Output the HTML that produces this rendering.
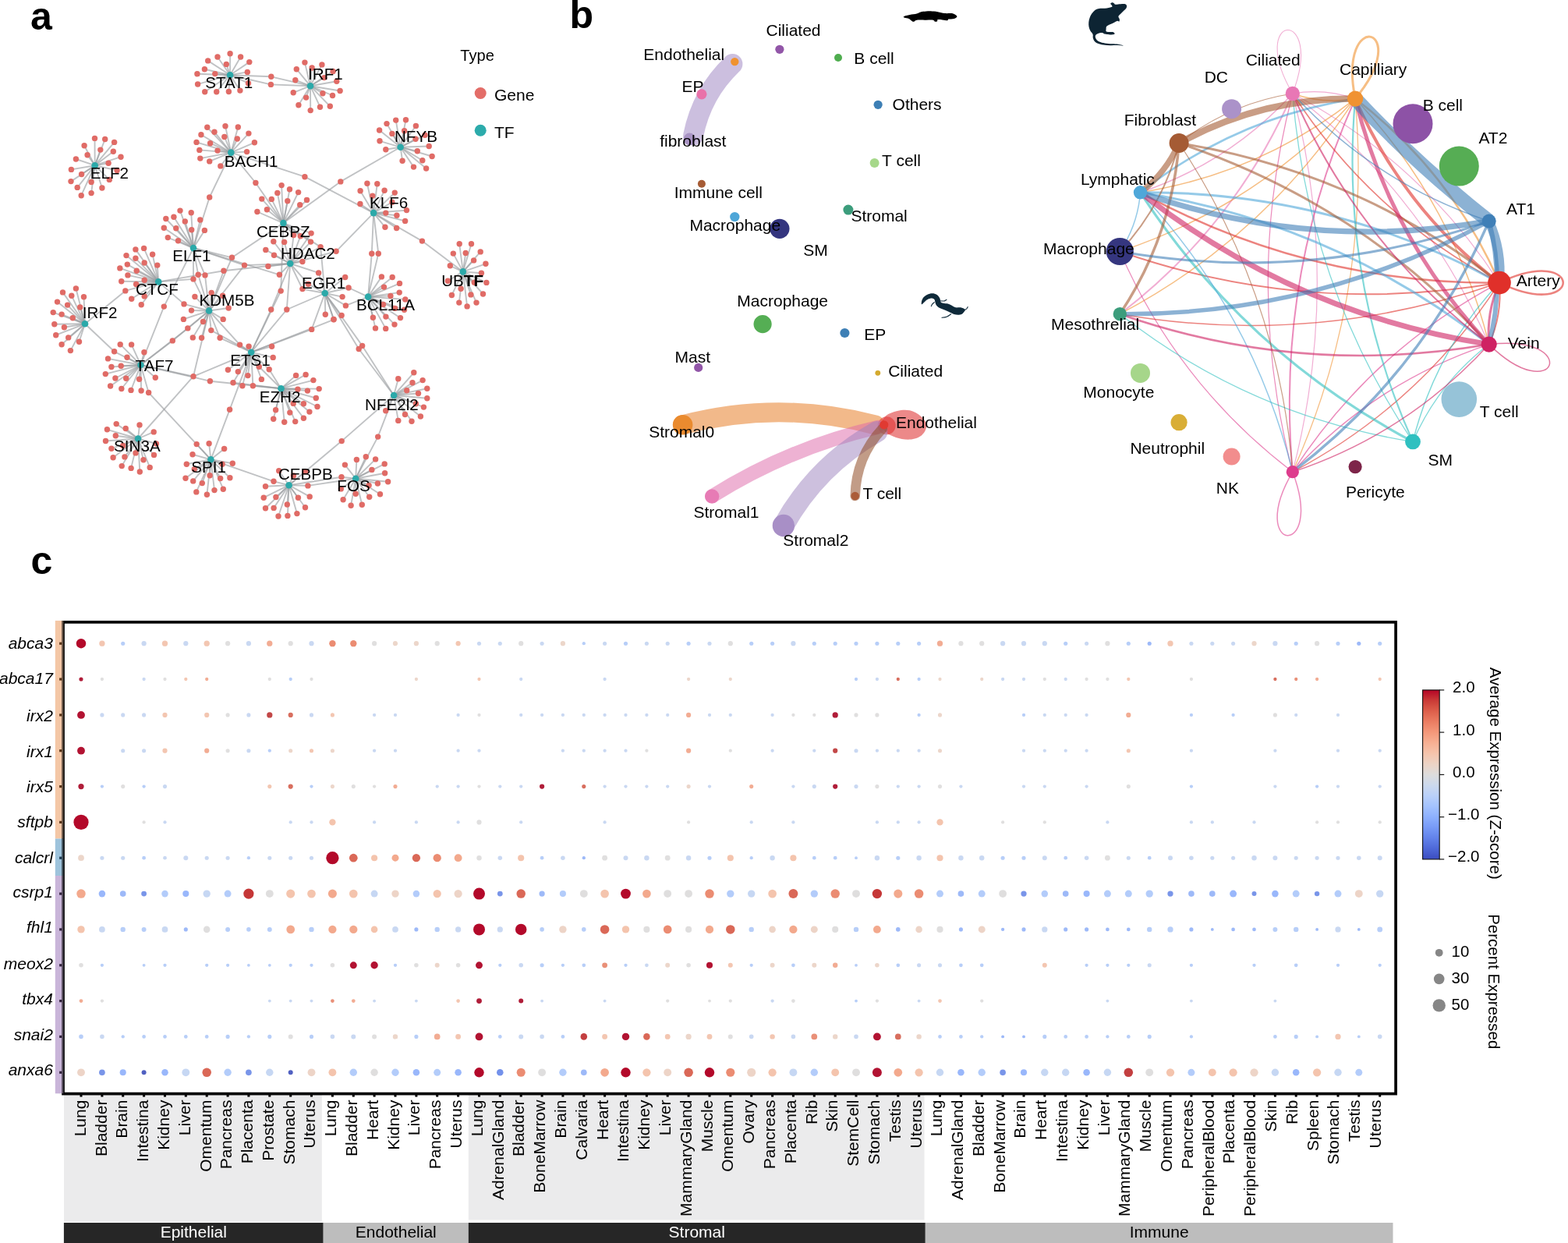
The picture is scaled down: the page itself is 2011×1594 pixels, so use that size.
<!DOCTYPE html>
<html lang="en"><head><meta charset="utf-8"><title>Figure</title>
<style>
html,body{margin:0;padding:0;background:#fff;}
body{width:2011px;height:1594px;overflow:hidden;}
svg{display:block;}
svg text{font-family:"Liberation Sans",sans-serif;}
</style></head>
<body>
<svg width="2011" height="1594" viewBox="0 0 2011 1594">
<rect width="2011" height="1594" fill="#fff"/>
<g font-weight="bold" font-size="50">
<text x="39" y="38">a</text><text x="730.5" y="35.7">b</text><text x="39.5" y="736">c</text></g>
<g id="net">
<g stroke="#9a9d9f" stroke-opacity="0.62" stroke-width="1.9" fill="none" stroke-linecap="round"><path d="M295.1 96.2L295.1 68.8"/><path d="M295.1 96.2L279 73"/><path d="M295.1 96.2L308.6 73"/><path d="M295.1 96.2L266.7 77.9"/><path d="M295.1 96.2L319.8 79.6"/><path d="M295.1 96.2L290.3 82.4"/><path d="M295.1 96.2L262.4 88.7"/><path d="M295.1 96.2L317.3 92.4"/><path d="M295.1 96.2L252.9 94.7"/><path d="M295.1 96.2L275.8 94.6"/><path d="M295.1 96.2L253.6 108"/><path d="M295.1 96.2L262.7 117.8"/><path d="M295.1 96.2L277.7 117.8"/><path d="M295.1 96.2L293.4 117.5"/><path d="M295.1 96.2L307.9 116.1"/><path d="M295.1 96.2L318.5 106.7"/><path d="M398 110.2L390.9 80.1"/><path d="M398 110.2L412.9 82.9"/><path d="M398 110.2L380.3 88.7"/><path d="M398 110.2L400.1 87"/><path d="M398 110.2L427.1 91.4"/><path d="M398 110.2L378.8 102.7"/><path d="M398 110.2L431.8 104.2"/><path d="M398 110.2L415.8 99.6"/><path d="M398 110.2L436.1 116.5"/><path d="M398 110.2L376.2 118.8"/><path d="M398 110.2L413.9 119.7"/><path d="M398 110.2L426.5 122.5"/><path d="M398 110.2L392.6 125.1"/><path d="M398 110.2L382.9 134.7"/><path d="M398 110.2L410.5 137.2"/><path d="M398 110.2L423.3 136.3"/><path d="M398 110.2L398.2 141.6"/><path d="M296.3 195.6L265.8 163.3"/><path d="M296.3 195.6L289 161.7"/><path d="M296.3 195.6L305.3 163"/><path d="M296.3 195.6L275 169.2"/><path d="M296.3 195.6L318.9 171.1"/><path d="M296.3 195.6L257.9 172.7"/><path d="M296.3 195.6L287.8 175.5"/><path d="M296.3 195.6L304.3 178"/><path d="M296.3 195.6L252 182.4"/><path d="M296.3 195.6L269.6 183.7"/><path d="M296.3 195.6L326.4 182.8"/><path d="M296.3 195.6L255.8 192.4"/><path d="M296.3 195.6L279 193.1"/><path d="M296.3 195.6L316.6 194.6"/><path d="M296.3 195.6L256.8 203.1"/><path d="M296.3 195.6L268.7 206.9"/><path d="M296.3 195.6L282.8 212.9"/><path d="M121.7 212.2L121.5 177.4"/><path d="M121.7 212.2L134.7 178.5"/><path d="M121.7 212.2L146.6 182.4"/><path d="M121.7 212.2L108.1 186.7"/><path d="M121.7 212.2L128.8 192.1"/><path d="M121.7 212.2L145.3 194.2"/><path d="M121.7 212.2L112.1 198.7"/><path d="M121.7 212.2L155 201.2"/><path d="M121.7 212.2L97.4 204"/><path d="M121.7 212.2L139.1 209.3"/><path d="M121.7 212.2L150.1 218.4"/><path d="M121.7 212.2L91.4 217.4"/><path d="M121.7 212.2L104.6 223.5"/><path d="M121.7 212.2L140.3 230.4"/><path d="M121.7 212.2L91 232.6"/><path d="M121.7 212.2L117.1 233.5"/><path d="M121.7 212.2L99.2 240.4"/><path d="M121.7 212.2L130.9 241"/><path d="M121.7 212.2L117.1 247.6"/><path d="M121.7 212.2L104.2 250.7"/><path d="M248 318.1L231 270.1"/><path d="M248 318.1L245.2 272.8"/><path d="M248 318.1L222.9 278.2"/><path d="M248 318.1L212.8 280.5"/><path d="M248 318.1L256.8 282"/><path d="M248 318.1L237.3 283.9"/><path d="M248 318.1L210.3 292.3"/><path d="M248 318.1L225.8 292.7"/><path d="M248 318.1L245.7 294.8"/><path d="M248 318.1L262.4 295.4"/><path d="M248 318.1L215.3 304.6"/><path d="M248 318.1L228.5 308.7"/><path d="M513.6 188.7L507.7 154.1"/><path d="M513.6 188.7L520.5 153.8"/><path d="M513.6 188.7L496 158.6"/><path d="M513.6 188.7L533.4 161.4"/><path d="M513.6 188.7L486.6 167"/><path d="M513.6 188.7L518.6 167.7"/><path d="M513.6 188.7L502.9 171.4"/><path d="M513.6 188.7L545 173.3"/><path d="M513.6 188.7L533 178.3"/><path d="M513.6 188.7L487 180.8"/><path d="M513.6 188.7L550.2 187.5"/><path d="M513.6 188.7L494.8 191.7"/><path d="M513.6 188.7L535.3 193.8"/><path d="M513.6 188.7L554.1 200.5"/><path d="M513.6 188.7L541.8 205.7"/><path d="M513.6 188.7L516.1 206.2"/><path d="M513.6 188.7L530.5 214.1"/><path d="M513.6 188.7L546.6 216"/><path d="M479.1 273.1L470.9 235.2"/><path d="M479.1 273.1L483.8 235.8"/><path d="M479.1 273.1L462.1 244.8"/><path d="M479.1 273.1L493.1 244.2"/><path d="M479.1 273.1L506.3 247.1"/><path d="M479.1 273.1L477.8 251.1"/><path d="M479.1 273.1L461.9 261.5"/><path d="M479.1 273.1L502.9 259.3"/><path d="M479.1 273.1L521.5 269.6"/><path d="M479.1 273.1L494.8 273.1"/><path d="M479.1 273.1L508.9 276.2"/><path d="M479.1 273.1L519.6 283.4"/><path d="M479.1 273.1L493.9 291.3"/><path d="M479.1 273.1L508.6 292.5"/><path d="M363.4 286.1L361.1 237.6"/><path d="M363.4 286.1L371.5 242.8"/><path d="M363.4 286.1L355.8 247.4"/><path d="M363.4 286.1L382.6 246.6"/><path d="M363.4 286.1L335.8 255.1"/><path d="M363.4 286.1L348.3 255.4"/><path d="M363.4 286.1L368.8 257.7"/><path d="M363.4 286.1L393.5 256.4"/><path d="M363.4 286.1L384.7 262.7"/><path d="M363.4 286.1L342.4 268.7"/><path d="M363.4 286.1L329.9 271.5"/><path d="M372.2 338L350.8 309.7"/><path d="M372.2 338L364.6 310.4"/><path d="M372.2 338L340.8 320.4"/><path d="M372.2 338L351.5 327.3"/><path d="M372.2 338L343.9 341.5"/><path d="M372.2 338L387.9 335.5"/><path d="M416.7 376L442.7 355.5"/><path d="M416.7 376L439.1 380.6"/><path d="M416.7 376L438.1 404.5"/><path d="M416.7 376L417.3 403.2"/><path d="M416.7 376L428 409.5"/><path d="M472.1 380.6L489.4 354.9"/><path d="M472.1 380.6L503.2 355.5"/><path d="M472.1 380.6L512.5 363.4"/><path d="M472.1 380.6L492.5 368.1"/><path d="M472.1 380.6L512.2 375.1"/><path d="M472.1 380.6L500.9 379.4"/><path d="M472.1 380.6L519.8 383.9"/><path d="M472.1 380.6L491.5 390.4"/><path d="M472.1 380.6L506.6 395.4"/><path d="M472.1 380.6L518.5 397.3"/><path d="M472.1 380.6L478.4 407.3"/><path d="M472.1 380.6L494.9 406.1"/><path d="M472.1 380.6L513.5 407.6"/><path d="M472.1 380.6L506 416.1"/><path d="M472.1 380.6L481.5 420.9"/><path d="M472.1 380.6L494.7 421.4"/><path d="M593.8 348.4L589.2 312.8"/><path d="M593.8 348.4L604.5 312.8"/><path d="M593.8 348.4L616.2 322.9"/><path d="M593.8 348.4L581.3 325.1"/><path d="M593.8 348.4L597.2 324.5"/><path d="M593.8 348.4L607.6 333.9"/><path d="M593.8 348.4L622.9 338.3"/><path d="M593.8 348.4L577.3 340.8"/><path d="M593.8 348.4L617.4 350.2"/><path d="M593.8 348.4L623.9 362.4"/><path d="M593.8 348.4L574.4 360.3"/><path d="M593.8 348.4L608.3 362.2"/><path d="M593.8 348.4L591.1 370.3"/><path d="M593.8 348.4L619.5 377"/><path d="M593.8 348.4L579.4 378.5"/><path d="M593.8 348.4L603.9 377.9"/><path d="M593.8 348.4L588.8 388.1"/><path d="M593.8 348.4L611 388.1"/><path d="M593.8 348.4L599.1 392.9"/><path d="M203.2 361.4L184.6 318.4"/><path d="M203.2 361.4L173.9 319.9"/><path d="M203.2 361.4L195.6 326.3"/><path d="M203.2 361.4L162 327.6"/><path d="M203.2 361.4L173.9 331.3"/><path d="M203.2 361.4L185.2 337"/><path d="M203.2 361.4L163.3 339.1"/><path d="M203.2 361.4L201.8 340.1"/><path d="M203.2 361.4L153.8 343.9"/><path d="M203.2 361.4L175.2 347.3"/><path d="M203.2 361.4L163.9 352.9"/><path d="M203.2 361.4L155.7 360.8"/><path d="M203.2 361.4L185.2 359.2"/><path d="M203.2 361.4L174.6 364.5"/><path d="M203.2 361.4L185.2 379.9"/><path d="M203.2 361.4L168.7 383.3"/><path d="M203.2 361.4L181.2 390.8"/><path d="M268.1 398.5L271.2 375.5"/><path d="M268.1 398.5L249.9 380.5"/><path d="M268.1 398.5L285.6 379.3"/><path d="M268.1 398.5L245.5 398.1"/><path d="M268.1 398.5L293.2 395"/><path d="M268.1 398.5L235.4 409.4"/><path d="M268.1 398.5L286.2 409.4"/><path d="M268.1 398.5L260.5 412.5"/><path d="M268.1 398.5L247.3 432.9"/><path d="M268.1 398.5L258.6 433.2"/><path d="M109 415.3L97.4 369.9"/><path d="M109 415.3L80.5 374.9"/><path d="M109 415.3L91.8 379.2"/><path d="M109 415.3L107.5 380.8"/><path d="M109 415.3L73.5 387.1"/><path d="M109 415.3L86.6 391.1"/><path d="M109 415.3L102.7 394"/><path d="M109 415.3L68.2 400.6"/><path d="M109 415.3L79.1 403.1"/><path d="M109 415.3L93.3 407.8"/><path d="M109 415.3L69.8 415.7"/><path d="M109 415.3L82.4 419.7"/><path d="M109 415.3L71.7 429.7"/><path d="M109 415.3L87.7 432.9"/><path d="M109 415.3L101.5 438.3"/><path d="M109 415.3L79.1 441.7"/><path d="M109 415.3L90.4 449.6"/><path d="M180.5 468L154.2 441.7"/><path d="M180.5 468L168.6 441.9"/><path d="M180.5 468L184.9 451.7"/><path d="M180.5 468L163 458.3"/><path d="M180.5 468L138.5 459.9"/><path d="M180.5 468L142.9 470.5"/><path d="M180.5 468L155.2 469.3"/><path d="M180.5 468L135.3 479.6"/><path d="M180.5 468L147.9 485"/><path d="M180.5 468L161.7 485.2"/><path d="M180.5 468L178.6 486.2"/><path d="M180.5 468L199.3 484.3"/><path d="M180.5 468L141.6 495"/><path d="M180.5 468L155.8 498.5"/><path d="M180.5 468L168 500.4"/><path d="M180.5 468L181.1 501"/><path d="M322.2 451.7L319.1 444.2"/><path d="M322.2 451.7L348.6 444.2"/><path d="M322.2 451.7L350.2 458.4"/><path d="M322.2 451.7L292.4 474.3"/><path d="M322.2 451.7L305.3 476.6"/><path d="M322.2 451.7L317.9 481.6"/><path d="M322.2 451.7L335.4 486.4"/><path d="M322.2 451.7L310.9 494.8"/><path d="M360.5 498.2L379.6 481.4"/><path d="M360.5 498.2L392.1 480.4"/><path d="M360.5 498.2L401.9 487.6"/><path d="M360.5 498.2L409.2 498.6"/><path d="M360.5 498.2L394.4 501.1"/><path d="M360.5 498.2L381.9 499.2"/><path d="M360.5 498.2L405.3 510.5"/><path d="M360.5 498.2L389.4 517.8"/><path d="M360.5 498.2L376.2 517.4"/><path d="M360.5 498.2L407 521.5"/><path d="M360.5 498.2L353.6 525.8"/><path d="M360.5 498.2L371.8 529.1"/><path d="M360.5 498.2L396.9 528.1"/><path d="M360.5 498.2L350.7 537.2"/><path d="M360.5 498.2L389.4 536.2"/><path d="M360.5 498.2L364.7 541.2"/><path d="M360.5 498.2L378.7 540.6"/><path d="M505.1 507L530.8 477.8"/><path d="M505.1 507L510.8 485.7"/><path d="M505.1 507L542.1 487.6"/><path d="M505.1 507L529 490.7"/><path d="M505.1 507L547.8 498.2"/><path d="M505.1 507L521.7 500.7"/><path d="M505.1 507L536.5 504.5"/><path d="M505.1 507L547.8 510.8"/><path d="M505.1 507L533.4 517.7"/><path d="M505.1 507L543.4 522.1"/><path d="M505.1 507L494.7 526.7"/><path d="M505.1 507L519.5 531.5"/><path d="M505.1 507L539.4 534"/><path d="M505.1 507L510.8 539.4"/><path d="M505.1 507L528 540.3"/><path d="M177.1 562.5L149.2 543.6"/><path d="M177.1 562.5L179 544.9"/><path d="M177.1 562.5L137.4 550.8"/><path d="M177.1 562.5L161.2 549.5"/><path d="M177.1 562.5L197.2 553.9"/><path d="M177.1 562.5L148.3 558.7"/><path d="M177.1 562.5L135.5 565.5"/><path d="M177.1 562.5L200.4 569"/><path d="M177.1 562.5L142.9 575.3"/><path d="M177.1 562.5L157.7 571.5"/><path d="M177.1 562.5L174 580.9"/><path d="M177.1 562.5L197.5 583.4"/><path d="M177.1 562.5L145.1 586.8"/><path d="M177.1 562.5L159.9 585.9"/><path d="M177.1 562.5L184 589.7"/><path d="M177.1 562.5L156.2 597.6"/><path d="M177.1 562.5L192.2 599.4"/><path d="M177.1 562.5L168.1 600.4"/><path d="M177.1 562.5L179.3 605"/><path d="M270.4 589.3L252.2 569.6"/><path d="M270.4 589.3L268.1 568.7"/><path d="M270.4 589.3L287.6 575.5"/><path d="M270.4 589.3L247 582.8"/><path d="M270.4 589.3L239.3 595.3"/><path d="M270.4 589.3L298.3 594.3"/><path d="M270.4 589.3L285.1 595.3"/><path d="M270.4 589.3L249.3 601.6"/><path d="M270.4 589.3L269.1 609.8"/><path d="M270.4 589.3L238 613.3"/><path d="M270.4 589.3L247.7 616.9"/><path d="M270.4 589.3L282.6 613.5"/><path d="M270.4 589.3L294.9 612.7"/><path d="M270.4 589.3L259.3 619.6"/><path d="M270.4 589.3L251.8 630.9"/><path d="M270.4 589.3L265.4 634.2"/><path d="M270.4 589.3L275 628.6"/><path d="M270.4 589.3L286.3 627.3"/><path d="M370.6 622.2L357.7 603.7"/><path d="M370.6 622.2L391.5 604.9"/><path d="M370.6 622.2L376.5 609.9"/><path d="M370.6 622.2L340.5 623.7"/><path d="M370.6 622.2L338.2 638.2"/><path d="M370.6 622.2L353.9 637.5"/><path d="M370.6 622.2L382.4 638.2"/><path d="M370.6 622.2L397.2 636.9"/><path d="M370.6 622.2L368.3 647"/><path d="M370.6 622.2L340.5 651.7"/><path d="M370.6 622.2L351.1 651.4"/><path d="M370.6 622.2L391.5 650.7"/><path d="M370.6 622.2L357 662"/><path d="M370.6 622.2L368.9 661.4"/><path d="M370.6 622.2L380.9 658.6"/><path d="M456.2 613.7L469.3 585.7"/><path d="M456.2 613.7L457.4 589.5"/><path d="M456.2 613.7L481.6 588.9"/><path d="M456.2 613.7L442.4 596.1"/><path d="M456.2 613.7L493.2 594.9"/><path d="M456.2 613.7L476.9 602.4"/><path d="M456.2 613.7L493.6 606.8"/><path d="M456.2 613.7L497.6 617.8"/><path d="M456.2 613.7L484.4 620"/><path d="M456.2 613.7L437.3 626.9"/><path d="M456.2 613.7L473.1 622.5"/><path d="M456.2 613.7L456.2 633.2"/><path d="M456.2 613.7L487.5 633.8"/><path d="M456.2 613.7L473.7 637.3"/><path d="M456.2 613.7L440.1 640.7"/><path d="M456.2 613.7L450.1 648.2"/><path d="M456.2 613.7L464.3 647.2"/><path d="M295.1 96.2L347.8 98.3"/><path d="M398 110.2L347.8 98.3"/><path d="M295.1 96.2L347.4 108.4"/><path d="M398 110.2L347.4 108.4"/><path d="M296.3 195.6L327.9 234.5"/><path d="M363.4 286.1L327.9 234.5"/><path d="M296.3 195.6L390.9 226.7"/><path d="M479.1 273.1L390.9 226.7"/><path d="M296.3 195.6L268.7 253"/><path d="M248 318.1L268.7 253"/><path d="M513.6 188.7L436.8 232.9"/><path d="M363.4 286.1L436.8 232.9"/><path d="M479.1 273.1L541.4 309.1"/><path d="M593.8 348.4L541.4 309.1"/><path d="M479.1 273.1L476.8 325.2"/><path d="M472.1 380.6L476.8 325.2"/><path d="M479.1 273.1L485.3 325.2"/><path d="M472.1 380.6L485.3 325.2"/><path d="M479.1 273.1L431.1 322.3"/><path d="M372.2 338L431.1 322.3"/><path d="M248 318.1L297.5 330.3"/><path d="M363.4 286.1L297.5 330.3"/><path d="M268.1 398.5L297.5 330.3"/><path d="M248 318.1L313.5 340.1"/><path d="M372.2 338L313.5 340.1"/><path d="M268.1 398.5L313.5 340.1"/><path d="M203.2 361.4L286.9 347.3"/><path d="M372.2 338L286.9 347.3"/><path d="M268.1 398.5L286.9 347.3"/><path d="M248 318.1L358.4 352.3"/><path d="M372.2 338L358.4 352.3"/><path d="M248 318.1L254.2 352.3"/><path d="M268.1 398.5L254.2 352.3"/><path d="M248 318.1L263 352.9"/><path d="M268.1 398.5L263 352.9"/><path d="M248 318.1L248 357.9"/><path d="M268.1 398.5L248 357.9"/><path d="M203.2 361.4L248 357.9"/><path d="M203.2 361.4L236 389.9"/><path d="M268.1 398.5L236 389.9"/><path d="M248 318.1L210.3 393.1"/><path d="M180.5 468L210.3 393.1"/><path d="M109 415.3L160.8 372.9"/><path d="M203.2 361.4L160.8 372.9"/><path d="M109 415.3L146.6 450.8"/><path d="M180.5 468L146.6 450.8"/><path d="M180.5 468L221.3 436.9"/><path d="M268.1 398.5L221.3 436.9"/><path d="M180.5 468L240.8 420.9"/><path d="M268.1 398.5L240.8 420.9"/><path d="M180.5 468L248 482.7"/><path d="M322.2 451.7L248 482.7"/><path d="M177.1 562.5L248 482.7"/><path d="M268.1 398.5L248 482.7"/><path d="M180.5 468L269.4 488.7"/><path d="M360.5 498.2L269.4 488.7"/><path d="M180.5 468L190.6 503.5"/><path d="M270.4 589.3L190.6 503.5"/><path d="M322.2 451.7L294.6 525.3"/><path d="M270.4 589.3L294.6 525.3"/><path d="M322.2 451.7L299 490.8"/><path d="M360.5 498.2L299 490.8"/><path d="M322.2 451.7L324.4 494.8"/><path d="M360.5 498.2L324.4 494.8"/><path d="M322.2 451.7L345.2 473.7"/><path d="M360.5 498.2L345.2 473.7"/><path d="M322.2 451.7L332.3 470.3"/><path d="M360.5 498.2L332.3 470.3"/><path d="M268.1 398.5L282.1 433.3"/><path d="M322.2 451.7L282.1 433.3"/><path d="M268.1 398.5L270.8 423.6"/><path d="M322.2 451.7L270.8 423.6"/><path d="M268.1 398.5L307.6 442.1"/><path d="M322.2 451.7L307.6 442.1"/><path d="M363.4 286.1L360.2 373.1"/><path d="M322.2 451.7L360.2 373.1"/><path d="M372.2 338L347.7 397"/><path d="M322.2 451.7L347.7 397"/><path d="M372.2 338L367.8 397"/><path d="M416.7 376L367.8 397"/><path d="M322.2 451.7L367.8 397"/><path d="M322.2 451.7L399.7 422.4"/><path d="M416.7 376L399.7 422.4"/><path d="M322.2 451.7L428 409.8"/><path d="M416.7 376L428 409.8"/><path d="M416.7 376L460.2 447.5"/><path d="M505.1 507L460.2 447.5"/><path d="M416.7 376L464.6 443.4"/><path d="M505.1 507L464.6 443.4"/><path d="M416.7 376L447.1 369"/><path d="M472.1 380.6L447.1 369"/><path d="M416.7 376L443.4 391.9"/><path d="M472.1 380.6L443.4 391.9"/><path d="M505.1 507L438.2 565.6"/><path d="M370.6 622.2L438.2 565.6"/><path d="M505.1 507L484.7 560.1"/><path d="M456.2 613.7L484.7 560.1"/><path d="M370.6 622.2L394.9 622.9"/><path d="M456.2 613.7L394.9 622.9"/><path d="M456.2 613.7L438 611.8"/><path d="M370.6 622.2L438 611.8"/><path d="M270.4 589.3L351 617.3"/><path d="M370.6 622.2L351 617.3"/><path d="M363.4 286.1L376.6 301.6"/><path d="M372.2 338L376.6 301.6"/><path d="M363.4 286.1L385.3 302.8"/><path d="M372.2 338L385.3 302.8"/><path d="M363.4 286.1L399.1 299.1"/><path d="M372.2 338L399.1 299.1"/><path d="M372.2 338L398.5 310.1"/><path d="M363.4 286.1L398.5 310.1"/><path d="M372.2 338L411.1 316.6"/><path d="M363.4 286.1L411.1 316.6"/><path d="M416.7 376L411.1 316.6"/><path d="M372.2 338L408.6 349.9"/><path d="M416.7 376L408.6 349.9"/><path d="M372.2 338L395.4 364.3"/><path d="M416.7 376L395.4 364.3"/><path d="M372.2 338L387.9 370.6"/><path d="M416.7 376L387.9 370.6"/></g>
<g fill="#e06b66"><circle cx="295.1" cy="68.8" r="3.7"/><circle cx="279" cy="73" r="3.7"/><circle cx="308.6" cy="73" r="3.7"/><circle cx="266.7" cy="77.9" r="3.7"/><circle cx="319.8" cy="79.6" r="3.7"/><circle cx="290.3" cy="82.4" r="3.7"/><circle cx="262.4" cy="88.7" r="3.7"/><circle cx="317.3" cy="92.4" r="3.7"/><circle cx="252.9" cy="94.7" r="3.7"/><circle cx="275.8" cy="94.6" r="3.7"/><circle cx="253.6" cy="108" r="3.7"/><circle cx="262.7" cy="117.8" r="3.7"/><circle cx="277.7" cy="117.8" r="3.7"/><circle cx="293.4" cy="117.5" r="3.7"/><circle cx="307.9" cy="116.1" r="3.7"/><circle cx="318.5" cy="106.7" r="3.7"/><circle cx="390.9" cy="80.1" r="3.7"/><circle cx="412.9" cy="82.9" r="3.7"/><circle cx="380.3" cy="88.7" r="3.7"/><circle cx="400.1" cy="87" r="3.7"/><circle cx="427.1" cy="91.4" r="3.7"/><circle cx="378.8" cy="102.7" r="3.7"/><circle cx="431.8" cy="104.2" r="3.7"/><circle cx="415.8" cy="99.6" r="3.7"/><circle cx="436.1" cy="116.5" r="3.7"/><circle cx="376.2" cy="118.8" r="3.7"/><circle cx="413.9" cy="119.7" r="3.7"/><circle cx="426.5" cy="122.5" r="3.7"/><circle cx="392.6" cy="125.1" r="3.7"/><circle cx="382.9" cy="134.7" r="3.7"/><circle cx="410.5" cy="137.2" r="3.7"/><circle cx="423.3" cy="136.3" r="3.7"/><circle cx="398.2" cy="141.6" r="3.7"/><circle cx="265.8" cy="163.3" r="3.7"/><circle cx="289" cy="161.7" r="3.7"/><circle cx="305.3" cy="163" r="3.7"/><circle cx="275" cy="169.2" r="3.7"/><circle cx="318.9" cy="171.1" r="3.7"/><circle cx="257.9" cy="172.7" r="3.7"/><circle cx="287.8" cy="175.5" r="3.7"/><circle cx="304.3" cy="178" r="3.7"/><circle cx="252" cy="182.4" r="3.7"/><circle cx="269.6" cy="183.7" r="3.7"/><circle cx="326.4" cy="182.8" r="3.7"/><circle cx="255.8" cy="192.4" r="3.7"/><circle cx="279" cy="193.1" r="3.7"/><circle cx="316.6" cy="194.6" r="3.7"/><circle cx="256.8" cy="203.1" r="3.7"/><circle cx="268.7" cy="206.9" r="3.7"/><circle cx="282.8" cy="212.9" r="3.7"/><circle cx="121.5" cy="177.4" r="3.7"/><circle cx="134.7" cy="178.5" r="3.7"/><circle cx="146.6" cy="182.4" r="3.7"/><circle cx="108.1" cy="186.7" r="3.7"/><circle cx="128.8" cy="192.1" r="3.7"/><circle cx="145.3" cy="194.2" r="3.7"/><circle cx="112.1" cy="198.7" r="3.7"/><circle cx="155" cy="201.2" r="3.7"/><circle cx="97.4" cy="204" r="3.7"/><circle cx="139.1" cy="209.3" r="3.7"/><circle cx="150.1" cy="218.4" r="3.7"/><circle cx="91.4" cy="217.4" r="3.7"/><circle cx="104.6" cy="223.5" r="3.7"/><circle cx="140.3" cy="230.4" r="3.7"/><circle cx="91" cy="232.6" r="3.7"/><circle cx="117.1" cy="233.5" r="3.7"/><circle cx="99.2" cy="240.4" r="3.7"/><circle cx="130.9" cy="241" r="3.7"/><circle cx="117.1" cy="247.6" r="3.7"/><circle cx="104.2" cy="250.7" r="3.7"/><circle cx="231" cy="270.1" r="3.7"/><circle cx="245.2" cy="272.8" r="3.7"/><circle cx="222.9" cy="278.2" r="3.7"/><circle cx="212.8" cy="280.5" r="3.7"/><circle cx="256.8" cy="282" r="3.7"/><circle cx="237.3" cy="283.9" r="3.7"/><circle cx="210.3" cy="292.3" r="3.7"/><circle cx="225.8" cy="292.7" r="3.7"/><circle cx="245.7" cy="294.8" r="3.7"/><circle cx="262.4" cy="295.4" r="3.7"/><circle cx="215.3" cy="304.6" r="3.7"/><circle cx="228.5" cy="308.7" r="3.7"/><circle cx="507.7" cy="154.1" r="3.7"/><circle cx="520.5" cy="153.8" r="3.7"/><circle cx="496" cy="158.6" r="3.7"/><circle cx="533.4" cy="161.4" r="3.7"/><circle cx="486.6" cy="167" r="3.7"/><circle cx="518.6" cy="167.7" r="3.7"/><circle cx="502.9" cy="171.4" r="3.7"/><circle cx="545" cy="173.3" r="3.7"/><circle cx="533" cy="178.3" r="3.7"/><circle cx="487" cy="180.8" r="3.7"/><circle cx="550.2" cy="187.5" r="3.7"/><circle cx="494.8" cy="191.7" r="3.7"/><circle cx="535.3" cy="193.8" r="3.7"/><circle cx="554.1" cy="200.5" r="3.7"/><circle cx="541.8" cy="205.7" r="3.7"/><circle cx="516.1" cy="206.2" r="3.7"/><circle cx="530.5" cy="214.1" r="3.7"/><circle cx="546.6" cy="216" r="3.7"/><circle cx="470.9" cy="235.2" r="3.7"/><circle cx="483.8" cy="235.8" r="3.7"/><circle cx="462.1" cy="244.8" r="3.7"/><circle cx="493.1" cy="244.2" r="3.7"/><circle cx="506.3" cy="247.1" r="3.7"/><circle cx="477.8" cy="251.1" r="3.7"/><circle cx="461.9" cy="261.5" r="3.7"/><circle cx="502.9" cy="259.3" r="3.7"/><circle cx="521.5" cy="269.6" r="3.7"/><circle cx="494.8" cy="273.1" r="3.7"/><circle cx="508.9" cy="276.2" r="3.7"/><circle cx="519.6" cy="283.4" r="3.7"/><circle cx="493.9" cy="291.3" r="3.7"/><circle cx="508.6" cy="292.5" r="3.7"/><circle cx="361.1" cy="237.6" r="3.7"/><circle cx="371.5" cy="242.8" r="3.7"/><circle cx="355.8" cy="247.4" r="3.7"/><circle cx="382.6" cy="246.6" r="3.7"/><circle cx="335.8" cy="255.1" r="3.7"/><circle cx="348.3" cy="255.4" r="3.7"/><circle cx="368.8" cy="257.7" r="3.7"/><circle cx="393.5" cy="256.4" r="3.7"/><circle cx="384.7" cy="262.7" r="3.7"/><circle cx="342.4" cy="268.7" r="3.7"/><circle cx="329.9" cy="271.5" r="3.7"/><circle cx="350.8" cy="309.7" r="3.7"/><circle cx="364.6" cy="310.4" r="3.7"/><circle cx="340.8" cy="320.4" r="3.7"/><circle cx="351.5" cy="327.3" r="3.7"/><circle cx="343.9" cy="341.5" r="3.7"/><circle cx="387.9" cy="335.5" r="3.7"/><circle cx="442.7" cy="355.5" r="3.7"/><circle cx="439.1" cy="380.6" r="3.7"/><circle cx="438.1" cy="404.5" r="3.7"/><circle cx="417.3" cy="403.2" r="3.7"/><circle cx="428" cy="409.5" r="3.7"/><circle cx="489.4" cy="354.9" r="3.7"/><circle cx="503.2" cy="355.5" r="3.7"/><circle cx="512.5" cy="363.4" r="3.7"/><circle cx="492.5" cy="368.1" r="3.7"/><circle cx="512.2" cy="375.1" r="3.7"/><circle cx="500.9" cy="379.4" r="3.7"/><circle cx="519.8" cy="383.9" r="3.7"/><circle cx="491.5" cy="390.4" r="3.7"/><circle cx="506.6" cy="395.4" r="3.7"/><circle cx="518.5" cy="397.3" r="3.7"/><circle cx="478.4" cy="407.3" r="3.7"/><circle cx="494.9" cy="406.1" r="3.7"/><circle cx="513.5" cy="407.6" r="3.7"/><circle cx="506" cy="416.1" r="3.7"/><circle cx="481.5" cy="420.9" r="3.7"/><circle cx="494.7" cy="421.4" r="3.7"/><circle cx="589.2" cy="312.8" r="3.7"/><circle cx="604.5" cy="312.8" r="3.7"/><circle cx="616.2" cy="322.9" r="3.7"/><circle cx="581.3" cy="325.1" r="3.7"/><circle cx="597.2" cy="324.5" r="3.7"/><circle cx="607.6" cy="333.9" r="3.7"/><circle cx="622.9" cy="338.3" r="3.7"/><circle cx="577.3" cy="340.8" r="3.7"/><circle cx="617.4" cy="350.2" r="3.7"/><circle cx="623.9" cy="362.4" r="3.7"/><circle cx="574.4" cy="360.3" r="3.7"/><circle cx="608.3" cy="362.2" r="3.7"/><circle cx="591.1" cy="370.3" r="3.7"/><circle cx="619.5" cy="377" r="3.7"/><circle cx="579.4" cy="378.5" r="3.7"/><circle cx="603.9" cy="377.9" r="3.7"/><circle cx="588.8" cy="388.1" r="3.7"/><circle cx="611" cy="388.1" r="3.7"/><circle cx="599.1" cy="392.9" r="3.7"/><circle cx="184.6" cy="318.4" r="3.7"/><circle cx="173.9" cy="319.9" r="3.7"/><circle cx="195.6" cy="326.3" r="3.7"/><circle cx="162" cy="327.6" r="3.7"/><circle cx="173.9" cy="331.3" r="3.7"/><circle cx="185.2" cy="337" r="3.7"/><circle cx="163.3" cy="339.1" r="3.7"/><circle cx="201.8" cy="340.1" r="3.7"/><circle cx="153.8" cy="343.9" r="3.7"/><circle cx="175.2" cy="347.3" r="3.7"/><circle cx="163.9" cy="352.9" r="3.7"/><circle cx="155.7" cy="360.8" r="3.7"/><circle cx="185.2" cy="359.2" r="3.7"/><circle cx="174.6" cy="364.5" r="3.7"/><circle cx="185.2" cy="379.9" r="3.7"/><circle cx="168.7" cy="383.3" r="3.7"/><circle cx="181.2" cy="390.8" r="3.7"/><circle cx="271.2" cy="375.5" r="3.7"/><circle cx="249.9" cy="380.5" r="3.7"/><circle cx="285.6" cy="379.3" r="3.7"/><circle cx="245.5" cy="398.1" r="3.7"/><circle cx="293.2" cy="395" r="3.7"/><circle cx="235.4" cy="409.4" r="3.7"/><circle cx="286.2" cy="409.4" r="3.7"/><circle cx="260.5" cy="412.5" r="3.7"/><circle cx="247.3" cy="432.9" r="3.7"/><circle cx="258.6" cy="433.2" r="3.7"/><circle cx="97.4" cy="369.9" r="3.7"/><circle cx="80.5" cy="374.9" r="3.7"/><circle cx="91.8" cy="379.2" r="3.7"/><circle cx="107.5" cy="380.8" r="3.7"/><circle cx="73.5" cy="387.1" r="3.7"/><circle cx="86.6" cy="391.1" r="3.7"/><circle cx="102.7" cy="394" r="3.7"/><circle cx="68.2" cy="400.6" r="3.7"/><circle cx="79.1" cy="403.1" r="3.7"/><circle cx="93.3" cy="407.8" r="3.7"/><circle cx="69.8" cy="415.7" r="3.7"/><circle cx="82.4" cy="419.7" r="3.7"/><circle cx="71.7" cy="429.7" r="3.7"/><circle cx="87.7" cy="432.9" r="3.7"/><circle cx="101.5" cy="438.3" r="3.7"/><circle cx="79.1" cy="441.7" r="3.7"/><circle cx="90.4" cy="449.6" r="3.7"/><circle cx="154.2" cy="441.7" r="3.7"/><circle cx="168.6" cy="441.9" r="3.7"/><circle cx="184.9" cy="451.7" r="3.7"/><circle cx="163" cy="458.3" r="3.7"/><circle cx="138.5" cy="459.9" r="3.7"/><circle cx="142.9" cy="470.5" r="3.7"/><circle cx="155.2" cy="469.3" r="3.7"/><circle cx="135.3" cy="479.6" r="3.7"/><circle cx="147.9" cy="485" r="3.7"/><circle cx="161.7" cy="485.2" r="3.7"/><circle cx="178.6" cy="486.2" r="3.7"/><circle cx="199.3" cy="484.3" r="3.7"/><circle cx="141.6" cy="495" r="3.7"/><circle cx="155.8" cy="498.5" r="3.7"/><circle cx="168" cy="500.4" r="3.7"/><circle cx="181.1" cy="501" r="3.7"/><circle cx="319.1" cy="444.2" r="3.7"/><circle cx="348.6" cy="444.2" r="3.7"/><circle cx="350.2" cy="458.4" r="3.7"/><circle cx="292.4" cy="474.3" r="3.7"/><circle cx="305.3" cy="476.6" r="3.7"/><circle cx="317.9" cy="481.6" r="3.7"/><circle cx="335.4" cy="486.4" r="3.7"/><circle cx="310.9" cy="494.8" r="3.7"/><circle cx="379.6" cy="481.4" r="3.7"/><circle cx="392.1" cy="480.4" r="3.7"/><circle cx="401.9" cy="487.6" r="3.7"/><circle cx="409.2" cy="498.6" r="3.7"/><circle cx="394.4" cy="501.1" r="3.7"/><circle cx="381.9" cy="499.2" r="3.7"/><circle cx="405.3" cy="510.5" r="3.7"/><circle cx="389.4" cy="517.8" r="3.7"/><circle cx="376.2" cy="517.4" r="3.7"/><circle cx="407" cy="521.5" r="3.7"/><circle cx="353.6" cy="525.8" r="3.7"/><circle cx="371.8" cy="529.1" r="3.7"/><circle cx="396.9" cy="528.1" r="3.7"/><circle cx="350.7" cy="537.2" r="3.7"/><circle cx="389.4" cy="536.2" r="3.7"/><circle cx="364.7" cy="541.2" r="3.7"/><circle cx="378.7" cy="540.6" r="3.7"/><circle cx="530.8" cy="477.8" r="3.7"/><circle cx="510.8" cy="485.7" r="3.7"/><circle cx="542.1" cy="487.6" r="3.7"/><circle cx="529" cy="490.7" r="3.7"/><circle cx="547.8" cy="498.2" r="3.7"/><circle cx="521.7" cy="500.7" r="3.7"/><circle cx="536.5" cy="504.5" r="3.7"/><circle cx="547.8" cy="510.8" r="3.7"/><circle cx="533.4" cy="517.7" r="3.7"/><circle cx="543.4" cy="522.1" r="3.7"/><circle cx="494.7" cy="526.7" r="3.7"/><circle cx="519.5" cy="531.5" r="3.7"/><circle cx="539.4" cy="534" r="3.7"/><circle cx="510.8" cy="539.4" r="3.7"/><circle cx="528" cy="540.3" r="3.7"/><circle cx="149.2" cy="543.6" r="3.7"/><circle cx="179" cy="544.9" r="3.7"/><circle cx="137.4" cy="550.8" r="3.7"/><circle cx="161.2" cy="549.5" r="3.7"/><circle cx="197.2" cy="553.9" r="3.7"/><circle cx="148.3" cy="558.7" r="3.7"/><circle cx="135.5" cy="565.5" r="3.7"/><circle cx="200.4" cy="569" r="3.7"/><circle cx="142.9" cy="575.3" r="3.7"/><circle cx="157.7" cy="571.5" r="3.7"/><circle cx="174" cy="580.9" r="3.7"/><circle cx="197.5" cy="583.4" r="3.7"/><circle cx="145.1" cy="586.8" r="3.7"/><circle cx="159.9" cy="585.9" r="3.7"/><circle cx="184" cy="589.7" r="3.7"/><circle cx="156.2" cy="597.6" r="3.7"/><circle cx="192.2" cy="599.4" r="3.7"/><circle cx="168.1" cy="600.4" r="3.7"/><circle cx="179.3" cy="605" r="3.7"/><circle cx="252.2" cy="569.6" r="3.7"/><circle cx="268.1" cy="568.7" r="3.7"/><circle cx="287.6" cy="575.5" r="3.7"/><circle cx="247" cy="582.8" r="3.7"/><circle cx="239.3" cy="595.3" r="3.7"/><circle cx="298.3" cy="594.3" r="3.7"/><circle cx="285.1" cy="595.3" r="3.7"/><circle cx="249.3" cy="601.6" r="3.7"/><circle cx="269.1" cy="609.8" r="3.7"/><circle cx="238" cy="613.3" r="3.7"/><circle cx="247.7" cy="616.9" r="3.7"/><circle cx="282.6" cy="613.5" r="3.7"/><circle cx="294.9" cy="612.7" r="3.7"/><circle cx="259.3" cy="619.6" r="3.7"/><circle cx="251.8" cy="630.9" r="3.7"/><circle cx="265.4" cy="634.2" r="3.7"/><circle cx="275" cy="628.6" r="3.7"/><circle cx="286.3" cy="627.3" r="3.7"/><circle cx="357.7" cy="603.7" r="3.7"/><circle cx="391.5" cy="604.9" r="3.7"/><circle cx="376.5" cy="609.9" r="3.7"/><circle cx="340.5" cy="623.7" r="3.7"/><circle cx="338.2" cy="638.2" r="3.7"/><circle cx="353.9" cy="637.5" r="3.7"/><circle cx="382.4" cy="638.2" r="3.7"/><circle cx="397.2" cy="636.9" r="3.7"/><circle cx="368.3" cy="647" r="3.7"/><circle cx="340.5" cy="651.7" r="3.7"/><circle cx="351.1" cy="651.4" r="3.7"/><circle cx="391.5" cy="650.7" r="3.7"/><circle cx="357" cy="662" r="3.7"/><circle cx="368.9" cy="661.4" r="3.7"/><circle cx="380.9" cy="658.6" r="3.7"/><circle cx="469.3" cy="585.7" r="3.7"/><circle cx="457.4" cy="589.5" r="3.7"/><circle cx="481.6" cy="588.9" r="3.7"/><circle cx="442.4" cy="596.1" r="3.7"/><circle cx="493.2" cy="594.9" r="3.7"/><circle cx="476.9" cy="602.4" r="3.7"/><circle cx="493.6" cy="606.8" r="3.7"/><circle cx="497.6" cy="617.8" r="3.7"/><circle cx="484.4" cy="620" r="3.7"/><circle cx="437.3" cy="626.9" r="3.7"/><circle cx="473.1" cy="622.5" r="3.7"/><circle cx="456.2" cy="633.2" r="3.7"/><circle cx="487.5" cy="633.8" r="3.7"/><circle cx="473.7" cy="637.3" r="3.7"/><circle cx="440.1" cy="640.7" r="3.7"/><circle cx="450.1" cy="648.2" r="3.7"/><circle cx="464.3" cy="647.2" r="3.7"/><circle cx="347.8" cy="98.3" r="3.7"/><circle cx="347.4" cy="108.4" r="3.7"/><circle cx="327.9" cy="234.5" r="3.7"/><circle cx="390.9" cy="226.7" r="3.7"/><circle cx="268.7" cy="253" r="3.7"/><circle cx="436.8" cy="232.9" r="3.7"/><circle cx="541.4" cy="309.1" r="3.7"/><circle cx="476.8" cy="325.2" r="3.7"/><circle cx="485.3" cy="325.2" r="3.7"/><circle cx="431.1" cy="322.3" r="3.7"/><circle cx="297.5" cy="330.3" r="3.7"/><circle cx="313.5" cy="340.1" r="3.7"/><circle cx="286.9" cy="347.3" r="3.7"/><circle cx="358.4" cy="352.3" r="3.7"/><circle cx="254.2" cy="352.3" r="3.7"/><circle cx="263" cy="352.9" r="3.7"/><circle cx="248" cy="357.9" r="3.7"/><circle cx="236" cy="389.9" r="3.7"/><circle cx="210.3" cy="393.1" r="3.7"/><circle cx="160.8" cy="372.9" r="3.7"/><circle cx="146.6" cy="450.8" r="3.7"/><circle cx="221.3" cy="436.9" r="3.7"/><circle cx="240.8" cy="420.9" r="3.7"/><circle cx="248" cy="482.7" r="3.7"/><circle cx="269.4" cy="488.7" r="3.7"/><circle cx="190.6" cy="503.5" r="3.7"/><circle cx="294.6" cy="525.3" r="3.7"/><circle cx="299" cy="490.8" r="3.7"/><circle cx="324.4" cy="494.8" r="3.7"/><circle cx="345.2" cy="473.7" r="3.7"/><circle cx="332.3" cy="470.3" r="3.7"/><circle cx="282.1" cy="433.3" r="3.7"/><circle cx="270.8" cy="423.6" r="3.7"/><circle cx="307.6" cy="442.1" r="3.7"/><circle cx="360.2" cy="373.1" r="3.7"/><circle cx="347.7" cy="397" r="3.7"/><circle cx="367.8" cy="397" r="3.7"/><circle cx="399.7" cy="422.4" r="3.7"/><circle cx="428" cy="409.8" r="3.7"/><circle cx="460.2" cy="447.5" r="3.7"/><circle cx="464.6" cy="443.4" r="3.7"/><circle cx="447.1" cy="369" r="3.7"/><circle cx="443.4" cy="391.9" r="3.7"/><circle cx="438.2" cy="565.6" r="3.7"/><circle cx="484.7" cy="560.1" r="3.7"/><circle cx="394.9" cy="622.9" r="3.7"/><circle cx="438" cy="611.8" r="3.7"/><circle cx="351" cy="617.3" r="3.7"/><circle cx="376.6" cy="301.6" r="3.7"/><circle cx="385.3" cy="302.8" r="3.7"/><circle cx="399.1" cy="299.1" r="3.7"/><circle cx="398.5" cy="310.1" r="3.7"/><circle cx="411.1" cy="316.6" r="3.7"/><circle cx="408.6" cy="349.9" r="3.7"/><circle cx="395.4" cy="364.3" r="3.7"/><circle cx="387.9" cy="370.6" r="3.7"/></g>
<g fill="#2ba9a9"><circle cx="295.1" cy="96.2" r="4.3"/><circle cx="398" cy="110.2" r="4.3"/><circle cx="296.3" cy="195.6" r="4.3"/><circle cx="121.7" cy="212.2" r="4.3"/><circle cx="248" cy="318.1" r="4.3"/><circle cx="513.6" cy="188.7" r="4.3"/><circle cx="479.1" cy="273.1" r="4.3"/><circle cx="363.4" cy="286.1" r="4.3"/><circle cx="372.2" cy="338" r="4.3"/><circle cx="416.7" cy="376" r="4.3"/><circle cx="472.1" cy="380.6" r="4.3"/><circle cx="593.8" cy="348.4" r="4.3"/><circle cx="203.2" cy="361.4" r="4.3"/><circle cx="268.1" cy="398.5" r="4.3"/><circle cx="109" cy="415.3" r="4.3"/><circle cx="180.5" cy="468" r="4.3"/><circle cx="322.2" cy="451.7" r="4.3"/><circle cx="360.5" cy="498.2" r="4.3"/><circle cx="505.1" cy="507" r="4.3"/><circle cx="177.1" cy="562.5" r="4.3"/><circle cx="270.4" cy="589.3" r="4.3"/><circle cx="370.6" cy="622.2" r="4.3"/><circle cx="456.2" cy="613.7" r="4.3"/></g>
<g font-size="20.6">
<text x="263.3" y="113.4">STAT1</text>
<text x="395.1" y="102.1">IRF1</text>
<text x="287.8" y="213.5">BACH1</text>
<text x="115.8" y="228.9">ELF2</text>
<text x="221.3" y="334.9">ELF1</text>
<text x="506" y="182.1">NFYB</text>
<text x="474" y="267.2">KLF6</text>
<text x="328.9" y="303.5">CEBPZ</text>
<text x="360" y="331.7">HDAC2</text>
<text x="387" y="369.7">EGR1</text>
<text x="456.9" y="397.6">BCL11A</text>
<text x="566.2" y="366.6">UB<tspan font-weight="bold">TF</tspan></text>
<text x="173.9" y="378.3">CTCF</text>
<text x="255.5" y="392.4">KDM5B</text>
<text x="105.8" y="408.4">IRF2</text>
<text x="173.6" y="475.9">TAF7</text>
<text x="295.3" y="469.4">ETS1</text>
<text x="332.7" y="515.5">EZH2</text>
<text x="468.1" y="525.5">NFE2l2</text>
<text x="146.1" y="579.3">SIN3A</text>
<text x="245.2" y="606">SPI1</text>
<text x="357" y="615">CEBPB</text>
<text x="432.3" y="630">FOS</text>
</g>
<text x="590.3" y="77.7" font-size="20.1">Type</text><g font-size="21"><text x="634" y="129.3">Gene</text><text x="634" y="176.6">TF</text></g>
<circle cx="616.2" cy="119.5" r="7.5" fill="#e36d68"/><circle cx="616.2" cy="167.3" r="7.5" fill="#2cabab"/>
</g>
<g id="pb">
<path d="M889.2 173.5Q899.9 119.9 939.4 82.1" stroke="#9a7fc0" stroke-opacity="0.5" stroke-width="26" fill="none" stroke-linecap="round"/>
<circle cx="999.9" cy="63.3" r="5.6" fill="#9256a8"/>
<circle cx="942.3" cy="79.1" r="5.2" fill="#f0922f"/>
<circle cx="1075" cy="74" r="5.0" fill="#4fad4f"/>
<circle cx="899.9" cy="120.8" r="6.6" fill="#e971a9"/>
<circle cx="1126.1" cy="134.3" r="5.6" fill="#3d7fb5"/>
<circle cx="884.4" cy="178.4" r="7.8" fill="#a893c3"/>
<circle cx="1121.6" cy="208.9" r="6.0" fill="#a6d88a"/>
<circle cx="899.9" cy="235.7" r="5.0" fill="#a65c35"/>
<circle cx="1087.9" cy="269.1" r="6.5" fill="#3c9d7c"/>
<circle cx="942.3" cy="278.1" r="6.2" fill="#4ea6d8"/>
<circle cx="999.9" cy="293.3" r="12.6" fill="#34357f"/>
<g font-size="21">
<text x="982.5" y="46.2">Ciliated</text>
<text x="825.3" y="77">Endothelial</text>
<text x="1095.3" y="82">B cell</text>
<text x="874.5" y="117.9">EP</text>
<text x="1144.6" y="140.8">Others</text>
<text x="846.2" y="188">fibroblast</text>
<text x="1131.1" y="213.3">T cell</text>
<text x="864.7" y="254.2">Immune cell</text>
<text x="1091.4" y="284">Stromal</text>
<text x="884.4" y="296">Macrophage</text>
<text x="1030.3" y="328.2">SM</text>
</g>
<path d="M875.6 544.8Q998.9 512.8 1122.2 544.8" stroke="#e7802a" stroke-opacity="0.55" stroke-width="25" fill="none" stroke-linecap="round"/>
<path d="M1130.2 544.8C1130.2 541.2 1133.0 536.1 1136.4 533.1C1139.9 530.1 1145.7 528.0 1150.8 526.9C1155.8 525.7 1161.8 525.1 1166.9 526.3C1171.9 527.5 1177.6 530.8 1181.2 534.0C1184.8 537.2 1188.2 541.6 1188.3 545.6C1188.5 549.7 1185.7 555.2 1182.1 558.2C1178.5 561.2 1172.4 563.1 1166.9 563.6C1161.3 564.0 1154.0 562.4 1149.0 560.9C1143.9 559.4 1139.6 557.3 1136.4 554.6C1133.3 551.9 1130.2 548.3 1130.2 544.8Z" fill="#e03a3a" fill-opacity="0.6"/>
<circle cx="1137.2" cy="545.8" r="11.5" fill="#e02a2a" fill-opacity="0.55"/>
<path d="M913.2 636.4Q1012.3 574.1 1126.4 547.8" stroke="#dd66a8" stroke-opacity="0.5" stroke-width="18" fill="none" stroke-linecap="round"/>
<path d="M1004.9 674Q1047.9 596.9 1124.9 553.6" stroke="#9b82be" stroke-opacity="0.5" stroke-width="27" fill="none" stroke-linecap="round"/>
<path d="M1096.7 636.1Q1097.9 586.2 1131.8 549.6" stroke="#8f4a24" stroke-opacity="0.55" stroke-width="12.5" fill="none" stroke-linecap="round"/>
<circle cx="978.1" cy="415.6" r="11.6" fill="#55ae54"/>
<circle cx="1083.4" cy="427" r="6.1" fill="#3d7fb5"/>
<circle cx="895.7" cy="471.4" r="5.6" fill="#9256a8"/>
<circle cx="1125.8" cy="478.3" r="3.4" fill="#d4aa2f"/>
<circle cx="875.6" cy="544.8" r="12.8" fill="#ea8b2f"/>
<circle cx="1133.7" cy="544.8" r="5.6" fill="#e03a32"/>
<circle cx="913.2" cy="636.4" r="9.2" fill="#e77bb5"/>
<circle cx="1096.7" cy="636.1" r="5.3" fill="#ab5c38"/>
<circle cx="1004.9" cy="674" r="14.2" fill="#a88fc6"/>
<g font-size="21">
<text x="945.3" y="393.3">Macrophage</text>
<text x="1108.2" y="435.9">EP</text>
<text x="865.6" y="464.9">Mast</text>
<text x="1139.2" y="482.8">Ciliated</text>
<text x="832.2" y="560.9">Stromal0</text>
<text x="1149" y="549">Endothelial</text>
<text x="1106.4" y="640">T cell</text>
<text x="889.5" y="663.9">Stromal1</text>
<text x="1004.3" y="699.7">Stromal2</text>
</g>
<path d="M1159.1 21.2C1160.2 20.6 1164.1 19.7 1166.9 19.1C1169.6 18.5 1173.5 18.2 1175.8 17.6C1178.1 17.0 1178.6 16.0 1180.6 15.5C1182.6 15.0 1185.5 14.8 1187.7 14.6C1189.9 14.4 1191.2 14.2 1193.7 14.3C1196.2 14.4 1199.7 14.8 1202.7 15.2C1205.6 15.7 1208.4 16.7 1211.6 17.0C1214.8 17.4 1219.1 16.7 1221.8 17.3C1224.4 18.0 1227.1 19.8 1227.4 20.9C1227.7 22.0 1225.4 23.3 1223.5 23.9C1221.7 24.5 1217.8 24.1 1216.4 24.5C1215.0 24.9 1216.5 26.1 1215.2 26.3C1213.9 26.4 1210.7 25.6 1208.6 25.4C1206.5 25.2 1203.7 24.8 1202.7 25.1C1201.6 25.4 1202.7 26.7 1202.1 27.2C1201.5 27.6 1200.0 28.0 1199.1 27.7C1198.2 27.5 1198.6 26.0 1196.7 25.7C1194.8 25.3 1191.2 25.7 1187.7 25.7C1184.3 25.7 1178.4 25.3 1175.8 25.7C1173.2 26.0 1173.2 27.5 1172.2 27.7C1171.2 28.0 1170.9 27.8 1169.8 27.2C1168.7 26.5 1167.3 24.6 1165.7 23.9C1164.1 23.1 1161.4 23.1 1160.3 22.7C1159.2 22.2 1158.0 21.8 1159.1 21.2Z" fill="#000"/>
<path d="M1182.1 390.3C1181.5 390.0 1181.8 386.6 1182.4 384.9C1183.0 383.1 1184.2 381.3 1185.9 379.9C1187.5 378.5 1190.2 377.2 1192.3 376.7C1194.5 376.1 1197.0 376.2 1198.8 376.7C1200.6 377.1 1202.1 378.3 1203.3 379.4C1204.4 380.5 1205.3 382.1 1205.7 383.4C1206.2 384.6 1205.6 385.9 1206.2 386.9C1206.9 387.8 1208.2 388.4 1209.7 388.8C1211.3 389.3 1213.9 389.1 1215.7 389.6C1217.5 390.1 1219.0 391.0 1220.7 391.8C1222.3 392.6 1223.7 393.9 1225.6 394.3C1227.5 394.7 1230.1 393.9 1232.1 394.3C1234.1 394.7 1236.8 395.9 1237.6 396.8C1238.3 397.7 1237.2 398.8 1236.6 399.8C1235.9 400.8 1234.9 402.1 1233.6 402.8C1232.3 403.4 1230.3 403.7 1228.6 403.8C1227.0 403.8 1225.3 403.5 1223.6 403.0C1222.0 402.5 1220.6 401.6 1218.7 400.8C1216.8 399.9 1214.5 398.8 1212.2 397.8C1209.9 396.8 1206.7 395.9 1204.8 394.8C1202.8 393.7 1201.7 392.7 1200.8 391.3C1199.9 390.0 1199.7 388.1 1199.3 386.9C1198.9 385.6 1199.0 384.6 1198.3 383.9C1197.5 383.2 1196.2 382.6 1194.8 382.6C1193.4 382.6 1191.3 383.2 1189.8 383.9C1188.3 384.6 1187.1 385.8 1185.9 386.9C1184.6 387.9 1182.7 390.7 1182.1 390.3Z" fill="#0f2a3a"/>
<path d="M1198.3 387.6C1197.9 388.0 1196.5 389.0 1195.8 389.8C1195.1 390.7 1194.6 392.1 1194.3 392.6" fill="none" stroke="#0f2a3a" stroke-width="1.1" stroke-linecap="round"/>
<path d="M1206.2 385.9C1207.1 385.9 1209.9 386.1 1211.2 385.9C1212.5 385.6 1213.5 384.5 1214.0 384.3" fill="none" stroke="#0f2a3a" stroke-width="1.1" stroke-linecap="round"/>
<path d="M1219.7 402.8C1218.8 403.3 1216.1 405.5 1214.2 406.2C1212.3 407.0 1209.0 407.2 1208.0 407.3" fill="none" stroke="#0f2a3a" stroke-width="1.1" stroke-linecap="round"/>
<path d="M1236.8 397.8C1237.3 397.5 1238.8 396.7 1239.6 396.1C1240.3 395.4 1240.9 394.1 1241.2 393.7" fill="none" stroke="#0f2a3a" stroke-width="1.1" stroke-linecap="round"/>
<path d="M1424.3 4.4C1424.6 3.9 1425.8 3.2 1426.5 3.2C1427.3 3.1 1428.1 3.7 1428.7 4.2C1429.4 4.6 1429.1 5.5 1430.5 5.7C1431.9 5.9 1435.0 5.3 1437.1 5.2C1439.2 5.1 1441.9 4.8 1443.2 5.3C1444.6 5.7 1444.9 7.0 1445.1 7.9C1445.2 8.9 1444.7 10.0 1444.1 11.0C1443.5 11.9 1442.5 12.6 1441.5 13.6C1440.4 14.6 1439.1 15.9 1438.0 17.1C1436.8 18.4 1434.8 19.8 1434.4 21.1C1434.1 22.3 1435.6 23.5 1435.8 24.6C1435.9 25.7 1435.9 27.2 1435.4 27.6C1434.9 28.0 1434.2 26.4 1432.7 26.9C1431.1 27.3 1428.3 29.2 1426.1 30.3C1423.9 31.4 1420.8 32.4 1419.5 33.6C1418.3 34.8 1418.7 36.2 1418.6 37.3C1418.5 38.5 1418.0 39.8 1418.9 40.4C1419.7 41.0 1422.4 40.9 1423.9 41.1C1425.4 41.2 1426.9 40.9 1427.9 41.3C1428.8 41.7 1430.0 42.9 1429.6 43.5C1429.2 44.0 1427.3 44.4 1425.7 44.4C1424.0 44.5 1421.1 44.1 1419.5 43.9C1418.0 43.7 1417.3 43.7 1416.4 43.5C1415.6 43.2 1415.2 42.4 1414.2 42.2C1413.3 42.0 1412.1 42.0 1410.7 42.2C1409.4 42.5 1407.3 43.3 1406.3 43.9C1405.4 44.6 1405.0 45.2 1404.8 46.1C1404.7 47.1 1404.8 48.5 1405.5 49.6C1406.1 50.7 1406.9 51.8 1408.5 52.7C1410.2 53.6 1412.6 54.5 1415.1 55.1C1417.7 55.7 1421.0 56.0 1423.9 56.2C1426.8 56.4 1429.9 56.2 1432.7 56.6C1435.5 56.9 1440.8 58.2 1440.8 58.5C1440.8 58.7 1435.5 58.1 1432.7 58.0C1429.9 58.0 1426.8 58.3 1423.9 58.2C1421.0 58.1 1417.8 57.9 1415.1 57.5C1412.5 57.1 1410.0 56.6 1408.1 55.8C1406.2 55.0 1404.8 53.9 1403.7 52.7C1402.6 51.4 1402.1 49.8 1401.7 48.3C1401.4 46.8 1402.1 45.4 1401.5 43.9C1401.0 42.4 1399.3 41.1 1398.4 39.5C1397.6 37.9 1396.8 36.1 1396.5 34.2C1396.1 32.4 1396.2 30.4 1396.3 28.5C1396.5 26.6 1396.9 24.7 1397.6 22.8C1398.2 21.0 1399.1 19.2 1400.2 17.6C1401.3 16.0 1402.8 14.2 1404.1 13.2C1405.5 12.1 1406.9 11.6 1408.5 11.2C1410.2 10.8 1412.4 10.9 1414.2 10.8C1416.1 10.6 1417.9 10.8 1419.5 10.5C1421.1 10.3 1422.7 9.8 1423.9 9.4C1425.1 9.1 1426.3 8.9 1426.5 8.3C1426.8 7.8 1425.6 6.8 1425.2 6.1C1424.9 5.5 1424.1 4.9 1424.3 4.4Z" fill="#0d2433"/>
<path d="M1657.8 120Q1698.8 112.9 1738.1 126.6" stroke="#e877b5" stroke-opacity="0.6" stroke-width="1.2" fill="none"/>
<path d="M1657.8 120Q1576.6 208.8 1462.5 246.8" stroke="#e877b5" stroke-opacity="0.6" stroke-width="1.5" fill="none"/>
<path d="M1657.8 120Q1583.8 290.1 1436.3 402.7" stroke="#e877b5" stroke-opacity="0.6" stroke-width="2" fill="none"/>
<path d="M1657.8 120Q1821.9 206.8 1923 362.6" stroke="#e877b5" stroke-opacity="0.6" stroke-width="1.2" fill="none"/>
<path d="M1657.8 120Q1825.6 248.1 1909.7 441.6" stroke="#e877b5" stroke-opacity="0.6" stroke-width="1.2" fill="none"/>
<path d="M1657.8 120Q1720.8 362.6 1657.8 605.2" stroke="#e877b5" stroke-opacity="0.6" stroke-width="1.2" fill="none"/>
<path d="M1738.1 126.6Q1616 222.5 1462.5 246.8" stroke="#f09232" stroke-opacity="0.6" stroke-width="1.5" fill="none"/>
<path d="M1738.1 126.6Q1612.7 263.8 1436.3 322.5" stroke="#f09232" stroke-opacity="0.6" stroke-width="1.5" fill="none"/>
<path d="M1738.1 126.6Q1623.1 303.9 1436.3 402.7" stroke="#f09232" stroke-opacity="0.6" stroke-width="1.5" fill="none"/>
<path d="M1738.1 126.6Q1861.2 220.6 1923 362.6" stroke="#f09232" stroke-opacity="0.6" stroke-width="2.5" fill="none"/>
<path d="M1738.1 126.6Q1864.9 261.8 1909.7 441.6" stroke="#f09232" stroke-opacity="0.6" stroke-width="1.5" fill="none"/>
<path d="M1738.1 126.6Q1760.2 376.4 1657.8 605.2" stroke="#f09232" stroke-opacity="0.6" stroke-width="1.3" fill="none"/>
<path d="M1738.1 126.6Q1697.1 133.8 1657.8 120" stroke="#f09232" stroke-opacity="0.6" stroke-width="1.5" fill="none"/>
<path d="M1657.8 605.2Q1510.3 492.6 1436.3 322.5" stroke="#dd3c8d" stroke-opacity="0.6" stroke-width="1.2" fill="none"/>
<path d="M1657.8 605.2Q1635.7 355.5 1738.1 126.6" stroke="#dd3c8d" stroke-opacity="0.6" stroke-width="2" fill="none"/>
<path d="M1657.8 605.2Q1594.7 362.6 1657.8 120" stroke="#dd3c8d" stroke-opacity="0.6" stroke-width="1.2" fill="none"/>
<path d="M1657.8 605.2Q1762.5 490.6 1909.7 441.6" stroke="#dd3c8d" stroke-opacity="0.6" stroke-width="1.5" fill="none"/>
<path d="M1657.8 605.2Q1758.9 449.4 1923 362.6" stroke="#dd3c8d" stroke-opacity="0.6" stroke-width="1.5" fill="none"/>
<path d="M1923 362.6Q1677.7 364.5 1462.5 246.8" stroke="#e0302a" stroke-opacity="0.6" stroke-width="2.5" fill="none"/>
<path d="M1923 362.6Q1799.9 268.7 1738.1 126.6" stroke="#e0302a" stroke-opacity="0.6" stroke-width="4" fill="none"/>
<path d="M1923 362.6Q1674.5 405.8 1436.3 322.5" stroke="#e0302a" stroke-opacity="0.6" stroke-width="2" fill="none"/>
<path d="M1923 362.6Q1684.9 445.9 1436.3 402.7" stroke="#e0302a" stroke-opacity="0.6" stroke-width="1.6" fill="none"/>
<path d="M1923 362.6Q1758.9 275.8 1657.8 120" stroke="#e0302a" stroke-opacity="0.6" stroke-width="1.6" fill="none"/>
<path d="M1923 362.6Q1821.9 518.4 1657.8 605.2" stroke="#e0302a" stroke-opacity="0.6" stroke-width="1.5" fill="none"/>
<path d="M1923 362.6Q1926.6 403.8 1909.7 441.6" stroke="#e0302a" stroke-opacity="0.6" stroke-width="2" fill="none"/>
<path d="M1812 566.4Q1595.7 452 1462.5 246.8" stroke="#2fc0c0" stroke-opacity="0.6" stroke-width="3.2" fill="none"/>
<path d="M1812 566.4Q1717.9 356.1 1738.1 126.6" stroke="#2fc0c0" stroke-opacity="0.6" stroke-width="2.2" fill="none"/>
<path d="M1812 566.4Q1602.9 533.4 1436.3 402.7" stroke="#2fc0c0" stroke-opacity="0.6" stroke-width="1.3" fill="none"/>
<path d="M1812 566.4Q1841 450.1 1923 362.6" stroke="#2fc0c0" stroke-opacity="0.6" stroke-width="1.5" fill="none"/>
<path d="M1812 566.4Q1844.6 491.3 1909.7 441.6" stroke="#2fc0c0" stroke-opacity="0.6" stroke-width="1.3" fill="none"/>
<path d="M1812 566.4Q1676.9 363.2 1657.8 120" stroke="#2fc0c0" stroke-opacity="0.6" stroke-width="1.3" fill="none"/>
<path d="M1462.5 246.8Q1584.7 150.9 1738.1 126.6" stroke="#4fa7d9" stroke-opacity="0.6" stroke-width="2.6" fill="none"/>
<path d="M1462.5 246.8Q1707.8 244.8 1923 362.6" stroke="#4fa7d9" stroke-opacity="0.6" stroke-width="3" fill="none"/>
<path d="M1462.5 246.8Q1711.5 286.1 1909.7 441.6" stroke="#4fa7d9" stroke-opacity="0.6" stroke-width="3" fill="none"/>
<path d="M1462.5 246.8Q1459.3 288.1 1436.3 322.5" stroke="#4fa7d9" stroke-opacity="0.6" stroke-width="1.5" fill="none"/>
<path d="M1462.5 246.8Q1606.7 400.6 1657.8 605.2" stroke="#4fa7d9" stroke-opacity="0.6" stroke-width="1.5" fill="none"/>
<path d="M1512.1 183.5Q1617.7 125.7 1738.1 126.6" stroke="#a55b34" stroke-opacity="0.6" stroke-width="8.5" fill="none"/>
<path d="M1512.1 183.5Q1495.5 221.6 1462.5 246.8" stroke="#a55b34" stroke-opacity="0.6" stroke-width="7.5" fill="none"/>
<path d="M1512.1 183.5Q1502.7 302.9 1436.3 402.7" stroke="#a55b34" stroke-opacity="0.6" stroke-width="3.5" fill="none"/>
<path d="M1512.1 183.5Q1740.8 219.6 1923 362.6" stroke="#a55b34" stroke-opacity="0.6" stroke-width="3" fill="none"/>
<path d="M1512.1 183.5Q1744.4 260.9 1909.7 441.6" stroke="#a55b34" stroke-opacity="0.6" stroke-width="3" fill="none"/>
<path d="M1512.1 183.5Q1576.7 132.8 1657.8 120" stroke="#a55b34" stroke-opacity="0.6" stroke-width="1.2" fill="none"/>
<path d="M1512.1 183.5Q1492.3 262.9 1436.3 322.5" stroke="#a55b34" stroke-opacity="0.6" stroke-width="2" fill="none"/>
<path d="M1512.1 183.5Q1639.7 375.4 1657.8 605.2" stroke="#a55b34" stroke-opacity="0.6" stroke-width="1.2" fill="none"/>
<path d="M1909.7 441.6Q1660.8 402.3 1462.5 246.8" stroke="#cf2263" stroke-opacity="0.6" stroke-width="7" fill="none"/>
<path d="M1909.7 441.6Q1783 306.4 1738.1 126.6" stroke="#cf2263" stroke-opacity="0.6" stroke-width="5" fill="none"/>
<path d="M1909.7 441.6Q1906.1 400.4 1923 362.6" stroke="#cf2263" stroke-opacity="0.6" stroke-width="3" fill="none"/>
<path d="M1909.7 441.6Q1668 483.7 1436.3 402.7" stroke="#cf2263" stroke-opacity="0.6" stroke-width="2.5" fill="none"/>
<path d="M1909.7 441.6Q1741.9 313.6 1657.8 120" stroke="#cf2263" stroke-opacity="0.6" stroke-width="2" fill="none"/>
<path d="M1909.7 441.6Q1805 556.2 1657.8 605.2" stroke="#cf2263" stroke-opacity="0.6" stroke-width="1.5" fill="none"/>
<path d="M1909.7 283.6Q1817.8 211.8 1738.1 126.6" stroke="#3f7fb7" stroke-opacity="0.6" stroke-width="18.5" fill="none"/>
<path d="M1909.7 283.6Q1926.6 321.4 1923 362.6" stroke="#3f7fb7" stroke-opacity="0.6" stroke-width="12" fill="none"/>
<path d="M1909.7 283.6Q1930.3 362.6 1909.7 441.6" stroke="#3f7fb7" stroke-opacity="0.6" stroke-width="6" fill="none"/>
<path d="M1909.7 283.6Q1681.3 323.3 1462.5 246.8" stroke="#3f7fb7" stroke-opacity="0.6" stroke-width="7.2" fill="none"/>
<path d="M1909.7 283.6Q1688.5 404.7 1436.3 402.7" stroke="#3f7fb7" stroke-opacity="0.6" stroke-width="5.5" fill="none"/>
<path d="M1909.7 283.6Q1678.1 364.6 1436.3 322.5" stroke="#3f7fb7" stroke-opacity="0.6" stroke-width="3" fill="none"/>
<path d="M1909.7 283.6Q1825.6 477.1 1657.8 605.2" stroke="#3f7fb7" stroke-opacity="0.6" stroke-width="3.5" fill="none"/>
<path d="M1909.7 283.6Q1762.5 234.6 1657.8 120" stroke="#3f7fb7" stroke-opacity="0.6" stroke-width="1.5" fill="none"/>
<path d="M1657.8 120C1700.6 7.1 1596.9 15.7 1657.8 120" stroke="#e877b5" stroke-opacity="0.6" stroke-width="1.1" fill="none"/>
<path d="M1738.1 126.6C1815.3 33.7 1714.5 8.2 1738.1 126.6" stroke="#f09232" stroke-opacity="0.6" stroke-width="3" fill="none"/>
<path d="M1923 362.6C2032 414.6 2032 310.6 1923 362.6" stroke="#e0302a" stroke-opacity="0.6" stroke-width="2.6" fill="none"/>
<path d="M1909.7 441.6C1995.9 526.2 2029.7 427.8 1909.7 441.6" stroke="#cf2263" stroke-opacity="0.6" stroke-width="1.5" fill="none"/>
<path d="M1657.8 605.2C1596.9 709.5 1700.6 718.1 1657.8 605.2" stroke="#dd3c8d" stroke-opacity="0.6" stroke-width="1.5" fill="none"/>
<circle cx="1923" cy="362.6" r="14.8" fill="#e0302a"/>
<circle cx="1909.7" cy="283.6" r="9" fill="#3f7fb7"/>
<circle cx="1871.3" cy="213.1" r="25.5" fill="#56ad54"/>
<circle cx="1812" cy="158.8" r="25.5" fill="#8d52a6"/>
<circle cx="1738.1" cy="126.6" r="10.2" fill="#f09232"/>
<circle cx="1657.8" cy="120" r="9.2" fill="#e877b5"/>
<circle cx="1579.6" cy="139.7" r="12.5" fill="#ab92c9"/>
<circle cx="1512.1" cy="183.5" r="12.5" fill="#a55b34"/>
<circle cx="1462.5" cy="246.8" r="8.7" fill="#4fa7d9"/>
<circle cx="1436.3" cy="322.5" r="17.6" fill="#35367f"/>
<circle cx="1436.3" cy="402.7" r="8.7" fill="#3c9d7c"/>
<circle cx="1462.5" cy="478.4" r="12.5" fill="#a6d68a"/>
<circle cx="1512.1" cy="541.7" r="10.6" fill="#d9ae36"/>
<circle cx="1579.6" cy="585.5" r="11" fill="#f28d8d"/>
<circle cx="1657.8" cy="605.2" r="8.1" fill="#dd3c8d"/>
<circle cx="1738.1" cy="598.6" r="8.6" fill="#7d2549"/>
<circle cx="1812" cy="566.4" r="9.9" fill="#2fc0c0"/>
<circle cx="1871.3" cy="512.1" r="22.8" fill="#96c3d8"/>
<circle cx="1909.7" cy="441.6" r="10.1" fill="#cf2263"/>
<g font-size="21">
<text x="1597.7" y="84.4">Ciliated</text>
<text x="1544.7" y="106.4">DC</text>
<text x="1441.8" y="160.6">Fibroblast</text>
<text x="1385.9" y="236.5">Lymphatic</text>
<text x="1718" y="95.5">Capilliary</text>
<text x="1824.7" y="142.4">B cell</text>
<text x="1896.4" y="183.6">AT2</text>
<text x="1932" y="275.2">AT1</text>
<text x="1944.7" y="366.8">Artery</text>
<text x="1933.7" y="447.4">Vein</text>
<text x="1897.8" y="535.2">T cell</text>
<text x="1338" y="326.2">Macrophage</text>
<text x="1348" y="422.6">Mesothrelial</text>
<text x="1389.3" y="510.4">Monocyte</text>
<text x="1449.4" y="582.4">Neutrophil</text>
<text x="1559.8" y="633.4">NK</text>
<text x="1725.9" y="638.4">Pericyte</text>
<text x="1831.6" y="596.9">SM</text>
</g>
</g>
<g id="dot">
<rect x="82" y="1403" width="330.8" height="164" fill="#ebebec"/>
<rect x="600.8" y="1403" width="584.7" height="161.5" fill="#ebebec"/>
<rect x="81.9" y="1568" width="332.8" height="27" fill="#262626"/>
<text x="248.3" y="1587.3" font-size="21" fill="#fff" text-anchor="middle">Epithelial</text>
<rect x="414.7" y="1568" width="186.1" height="27" fill="#bdbdbd"/>
<text x="507.8" y="1587.3" font-size="21" fill="#000" text-anchor="middle">Endothelial</text>
<rect x="600.8" y="1568" width="586" height="27" fill="#262626"/>
<text x="893.8" y="1587.3" font-size="21" fill="#fff" text-anchor="middle">Stromal</text>
<rect x="1186.8" y="1568" width="599.7" height="27" fill="#bdbdbd"/>
<text x="1486.7" y="1587.3" font-size="21" fill="#000" text-anchor="middle">Immune</text>
<rect x="70.8" y="795.9" width="9" height="279.6" fill="#f4c7a6"/>
<rect x="70.8" y="1075.5" width="9" height="47.5" fill="#9ec3dc"/>
<rect x="70.8" y="1123" width="9" height="279.3" fill="#c9b5d9"/>
<rect x="81.0" y="797.8" width="1709.1" height="604.8" fill="#fff" stroke="#000" stroke-width="3.7"/>
<rect x="79.1" y="795.9" width="2.2" height="279.6" fill="#f4c7a6" opacity="0.45"/>
<rect x="79.1" y="1075.5" width="2.2" height="47.5" fill="#9ec3dc" opacity="0.45"/>
<rect x="79.1" y="1123" width="2.2" height="279.3" fill="#c9b5d9" opacity="0.45"/>
<g font-size="21" font-style="italic" text-anchor="end">
<text x="67.9" y="831.8">abca3</text>
<text x="67.9" y="877.4">abca17</text>
<text x="67.9" y="924.5">irx2</text>
<text x="67.9" y="970.6">irx1</text>
<text x="67.9" y="1016">irx5</text>
<text x="67.9" y="1060.8">sftpb</text>
<text x="67.9" y="1106.8">calcrl</text>
<text x="67.9" y="1151">csrp1</text>
<text x="67.9" y="1196.2">fhl1</text>
<text x="67.9" y="1242.8">meox2</text>
<text x="67.9" y="1287.7">tbx4</text>
<text x="67.9" y="1333.6">snai2</text>
<text x="67.9" y="1378.9">anxa6</text>
</g>
<rect x="76.1" y="823.6" width="3.2" height="3.2" fill="#5a3418"/><rect x="76.1" y="869.4" width="3.2" height="3.2" fill="#5a3418"/><rect x="76.1" y="915.3" width="3.2" height="3.2" fill="#5a3418"/><rect x="76.1" y="961.1" width="3.2" height="3.2" fill="#5a3418"/><rect x="76.1" y="1007" width="3.2" height="3.2" fill="#5a3418"/><rect x="76.1" y="1052.8" width="3.2" height="3.2" fill="#5a3418"/><rect x="76.1" y="1098.6" width="3.2" height="3.2" fill="#1d3a52"/><rect x="76.1" y="1144.5" width="3.2" height="3.2" fill="#33243f"/><rect x="76.1" y="1190.3" width="3.2" height="3.2" fill="#33243f"/><rect x="76.1" y="1236.2" width="3.2" height="3.2" fill="#33243f"/><rect x="76.1" y="1282" width="3.2" height="3.2" fill="#33243f"/><rect x="76.1" y="1327.8" width="3.2" height="3.2" fill="#33243f"/><rect x="76.1" y="1373.7" width="3.2" height="3.2" fill="#33243f"/>
<g fill="#000"><rect x="102.5" y="1403" width="3" height="3.6"/><rect x="129.4" y="1403" width="3" height="3.6"/><rect x="156.2" y="1403" width="3" height="3.6"/><rect x="183.1" y="1403" width="3" height="3.6"/><rect x="210" y="1403" width="3" height="3.6"/><rect x="236.8" y="1403" width="3" height="3.6"/><rect x="263.7" y="1403" width="3" height="3.6"/><rect x="290.6" y="1403" width="3" height="3.6"/><rect x="317.4" y="1403" width="3" height="3.6"/><rect x="344.3" y="1403" width="3" height="3.6"/><rect x="371.2" y="1403" width="3" height="3.6"/><rect x="398" y="1403" width="3" height="3.6"/><rect x="424.9" y="1403" width="3" height="3.6"/><rect x="451.8" y="1403" width="3" height="3.6"/><rect x="478.6" y="1403" width="3" height="3.6"/><rect x="505.5" y="1403" width="3" height="3.6"/><rect x="532.4" y="1403" width="3" height="3.6"/><rect x="559.2" y="1403" width="3" height="3.6"/><rect x="586.1" y="1403" width="3" height="3.6"/><rect x="613" y="1403" width="3" height="3.6"/><rect x="639.8" y="1403" width="3" height="3.6"/><rect x="666.7" y="1403" width="3" height="3.6"/><rect x="693.6" y="1403" width="3" height="3.6"/><rect x="720.4" y="1403" width="3" height="3.6"/><rect x="747.3" y="1403" width="3" height="3.6"/><rect x="774.1" y="1403" width="3" height="3.6"/><rect x="801" y="1403" width="3" height="3.6"/><rect x="827.9" y="1403" width="3" height="3.6"/><rect x="854.7" y="1403" width="3" height="3.6"/><rect x="881.6" y="1403" width="3" height="3.6"/><rect x="908.5" y="1403" width="3" height="3.6"/><rect x="935.3" y="1403" width="3" height="3.6"/><rect x="962.2" y="1403" width="3" height="3.6"/><rect x="989.1" y="1403" width="3" height="3.6"/><rect x="1015.9" y="1403" width="3" height="3.6"/><rect x="1042.8" y="1403" width="3" height="3.6"/><rect x="1069.7" y="1403" width="3" height="3.6"/><rect x="1096.5" y="1403" width="3" height="3.6"/><rect x="1123.4" y="1403" width="3" height="3.6"/><rect x="1150.3" y="1403" width="3" height="3.6"/><rect x="1177.1" y="1403" width="3" height="3.6"/><rect x="1204" y="1403" width="3" height="3.6"/><rect x="1230.9" y="1403" width="3" height="3.6"/><rect x="1257.7" y="1403" width="3" height="3.6"/><rect x="1284.6" y="1403" width="3" height="3.6"/><rect x="1311.5" y="1403" width="3" height="3.6"/><rect x="1338.3" y="1403" width="3" height="3.6"/><rect x="1365.2" y="1403" width="3" height="3.6"/><rect x="1392.1" y="1403" width="3" height="3.6"/><rect x="1418.9" y="1403" width="3" height="3.6"/><rect x="1445.8" y="1403" width="3" height="3.6"/><rect x="1472.7" y="1403" width="3" height="3.6"/><rect x="1499.5" y="1403" width="3" height="3.6"/><rect x="1526.4" y="1403" width="3" height="3.6"/><rect x="1553.3" y="1403" width="3" height="3.6"/><rect x="1580.1" y="1403" width="3" height="3.6"/><rect x="1607" y="1403" width="3" height="3.6"/><rect x="1633.9" y="1403" width="3" height="3.6"/><rect x="1660.7" y="1403" width="3" height="3.6"/><rect x="1687.6" y="1403" width="3" height="3.6"/><rect x="1714.5" y="1403" width="3" height="3.6"/><rect x="1741.3" y="1403" width="3" height="3.6"/><rect x="1768.2" y="1403" width="3" height="3.6"/></g>
<g font-size="21" text-anchor="end">
<text transform="translate(109.7 1410.6) rotate(-90)">Lung</text>
<text transform="translate(136.5 1410.6) rotate(-90)">Bladder</text>
<text transform="translate(163.3 1410.6) rotate(-90)">Brain</text>
<text transform="translate(190.1 1410.6) rotate(-90)">Intestina</text>
<text transform="translate(216.9 1410.6) rotate(-90)">Kidney</text>
<text transform="translate(243.7 1410.6) rotate(-90)">Liver</text>
<text transform="translate(270.5 1410.6) rotate(-90)">Omentum</text>
<text transform="translate(297.3 1410.6) rotate(-90)">Pancreas</text>
<text transform="translate(324.1 1410.6) rotate(-90)">Placenta</text>
<text transform="translate(350.8 1410.6) rotate(-90)">Prostate</text>
<text transform="translate(377.6 1410.6) rotate(-90)">Stomach</text>
<text transform="translate(404.4 1410.6) rotate(-90)">Uterus</text>
<text transform="translate(431.2 1410.6) rotate(-90)">Lung</text>
<text transform="translate(458 1410.6) rotate(-90)">Bladder</text>
<text transform="translate(484.8 1410.6) rotate(-90)">Heart</text>
<text transform="translate(511.6 1410.6) rotate(-90)">Kidney</text>
<text transform="translate(538.4 1410.6) rotate(-90)">Liver</text>
<text transform="translate(565.2 1410.6) rotate(-90)">Pancreas</text>
<text transform="translate(592 1410.6) rotate(-90)">Uterus</text>
<text transform="translate(618.8 1410.6) rotate(-90)">Lung</text>
<text transform="translate(645.6 1410.6) rotate(-90)">AdrenalGland</text>
<text transform="translate(672.4 1410.6) rotate(-90)">Bladder</text>
<text transform="translate(699.2 1410.6) rotate(-90)">BoneMarrow</text>
<text transform="translate(726 1410.6) rotate(-90)">Brain</text>
<text transform="translate(752.8 1410.6) rotate(-90)">Calvaria</text>
<text transform="translate(779.6 1410.6) rotate(-90)">Heart</text>
<text transform="translate(806.3 1410.6) rotate(-90)">Intestina</text>
<text transform="translate(833.1 1410.6) rotate(-90)">Kidney</text>
<text transform="translate(859.9 1410.6) rotate(-90)">Liver</text>
<text transform="translate(886.7 1410.6) rotate(-90)">MammaryGland</text>
<text transform="translate(913.5 1410.6) rotate(-90)">Muscle</text>
<text transform="translate(940.3 1410.6) rotate(-90)">Omentum</text>
<text transform="translate(967.1 1410.6) rotate(-90)">Ovary</text>
<text transform="translate(993.9 1410.6) rotate(-90)">Pancreas</text>
<text transform="translate(1020.7 1410.6) rotate(-90)">Placenta</text>
<text transform="translate(1047.5 1410.6) rotate(-90)">Rib</text>
<text transform="translate(1074.3 1410.6) rotate(-90)">Skin</text>
<text transform="translate(1101.1 1410.6) rotate(-90)">StemCell</text>
<text transform="translate(1127.9 1410.6) rotate(-90)">Stomach</text>
<text transform="translate(1154.7 1410.6) rotate(-90)">Testis</text>
<text transform="translate(1181.5 1410.6) rotate(-90)">Uterus</text>
<text transform="translate(1208.3 1410.6) rotate(-90)">Lung</text>
<text transform="translate(1235 1410.6) rotate(-90)">AdrenalGland</text>
<text transform="translate(1261.8 1410.6) rotate(-90)">Bladder</text>
<text transform="translate(1288.6 1410.6) rotate(-90)">BoneMarrow</text>
<text transform="translate(1315.4 1410.6) rotate(-90)">Brain</text>
<text transform="translate(1342.2 1410.6) rotate(-90)">Heart</text>
<text transform="translate(1369 1410.6) rotate(-90)">Intestina</text>
<text transform="translate(1395.8 1410.6) rotate(-90)">Kidney</text>
<text transform="translate(1422.6 1410.6) rotate(-90)">Liver</text>
<text transform="translate(1449.4 1410.6) rotate(-90)">MammaryGland</text>
<text transform="translate(1476.2 1410.6) rotate(-90)">Muscle</text>
<text transform="translate(1503 1410.6) rotate(-90)">Omentum</text>
<text transform="translate(1529.8 1410.6) rotate(-90)">Pancreas</text>
<text transform="translate(1556.6 1410.6) rotate(-90)">PeripheralBlood</text>
<text transform="translate(1583.4 1410.6) rotate(-90)">Placenta</text>
<text transform="translate(1610.2 1410.6) rotate(-90)">PeripheralBlood</text>
<text transform="translate(1637 1410.6) rotate(-90)">Skin</text>
<text transform="translate(1663.8 1410.6) rotate(-90)">Rib</text>
<text transform="translate(1690.5 1410.6) rotate(-90)">Spleen</text>
<text transform="translate(1717.3 1410.6) rotate(-90)">Stomach</text>
<text transform="translate(1744.1 1410.6) rotate(-90)">Testis</text>
<text transform="translate(1770.9 1410.6) rotate(-90)">Uterus</text>
</g>
<circle cx="104" cy="825.2" r="6.20" fill="#b3092a"/>
<circle cx="130.9" cy="825.2" r="3.63" fill="#f3c6b1"/>
<circle cx="157.7" cy="825.2" r="2.57" fill="#b7cef8"/>
<circle cx="184.6" cy="825.2" r="3.10" fill="#c9d8f2"/>
<circle cx="211.5" cy="825.2" r="3.63" fill="#f3c6b1"/>
<circle cx="238.3" cy="825.2" r="3.10" fill="#c9d8f2"/>
<circle cx="265.2" cy="825.2" r="3.63" fill="#f3c6b1"/>
<circle cx="292.1" cy="825.2" r="3.10" fill="#e0dfdf"/>
<circle cx="318.9" cy="825.2" r="3.10" fill="#c9d8f2"/>
<circle cx="345.8" cy="825.2" r="3.63" fill="#f2ac93"/>
<circle cx="372.7" cy="825.2" r="3.10" fill="#e0dfdf"/>
<circle cx="399.5" cy="825.2" r="3.10" fill="#c9d8f2"/>
<circle cx="426.4" cy="825.2" r="4.17" fill="#eb8c72"/>
<circle cx="453.3" cy="825.2" r="4.17" fill="#eb8c72"/>
<circle cx="480.1" cy="825.2" r="3.10" fill="#e0dfdf"/>
<circle cx="507" cy="825.2" r="3.10" fill="#ecd6ca"/>
<circle cx="533.9" cy="825.2" r="3.10" fill="#ecd6ca"/>
<circle cx="560.7" cy="825.2" r="3.10" fill="#e0dfdf"/>
<circle cx="587.6" cy="825.2" r="3.10" fill="#f3c6b1"/>
<circle cx="614.5" cy="825.2" r="2.57" fill="#c9d8f2"/>
<circle cx="641.3" cy="825.2" r="2.57" fill="#c9d8f2"/>
<circle cx="668.2" cy="825.2" r="3.10" fill="#e0dfdf"/>
<circle cx="695.1" cy="825.2" r="2.57" fill="#c9d8f2"/>
<circle cx="721.9" cy="825.2" r="3.10" fill="#ecd6ca"/>
<circle cx="748.8" cy="825.2" r="2.14" fill="#b7cef8"/>
<circle cx="775.6" cy="825.2" r="2.57" fill="#c9d8f2"/>
<circle cx="802.5" cy="825.2" r="2.57" fill="#b7cef8"/>
<circle cx="829.4" cy="825.2" r="2.57" fill="#c9d8f2"/>
<circle cx="856.2" cy="825.2" r="2.57" fill="#c9d8f2"/>
<circle cx="883.1" cy="825.2" r="2.57" fill="#b7cef8"/>
<circle cx="910" cy="825.2" r="2.57" fill="#c9d8f2"/>
<circle cx="936.8" cy="825.2" r="3.10" fill="#e0dfdf"/>
<circle cx="963.7" cy="825.2" r="2.57" fill="#b7cef8"/>
<circle cx="990.6" cy="825.2" r="2.57" fill="#b7cef8"/>
<circle cx="1017.4" cy="825.2" r="3.10" fill="#c9d8f2"/>
<circle cx="1044.3" cy="825.2" r="2.57" fill="#b7cef8"/>
<circle cx="1071.2" cy="825.2" r="2.57" fill="#b7cef8"/>
<circle cx="1098" cy="825.2" r="2.57" fill="#b7cef8"/>
<circle cx="1124.9" cy="825.2" r="2.57" fill="#b7cef8"/>
<circle cx="1151.8" cy="825.2" r="2.57" fill="#b7cef8"/>
<circle cx="1178.6" cy="825.2" r="2.57" fill="#b7cef8"/>
<circle cx="1205.5" cy="825.2" r="3.63" fill="#f2ac93"/>
<circle cx="1232.4" cy="825.2" r="3.10" fill="#e0dfdf"/>
<circle cx="1259.2" cy="825.2" r="3.10" fill="#e0dfdf"/>
<circle cx="1286.1" cy="825.2" r="3.10" fill="#c9d8f2"/>
<circle cx="1313" cy="825.2" r="3.10" fill="#c9d8f2"/>
<circle cx="1339.8" cy="825.2" r="3.10" fill="#c9d8f2"/>
<circle cx="1366.7" cy="825.2" r="2.57" fill="#b7cef8"/>
<circle cx="1393.6" cy="825.2" r="2.57" fill="#c9d8f2"/>
<circle cx="1420.4" cy="825.2" r="3.10" fill="#e0dfdf"/>
<circle cx="1447.3" cy="825.2" r="2.57" fill="#b7cef8"/>
<circle cx="1474.2" cy="825.2" r="2.57" fill="#9db9f8"/>
<circle cx="1501" cy="825.2" r="3.63" fill="#f3c6b1"/>
<circle cx="1527.9" cy="825.2" r="2.57" fill="#c9d8f2"/>
<circle cx="1554.8" cy="825.2" r="2.57" fill="#c9d8f2"/>
<circle cx="1581.6" cy="825.2" r="2.57" fill="#c9d8f2"/>
<circle cx="1608.5" cy="825.2" r="3.10" fill="#ecd6ca"/>
<circle cx="1635.4" cy="825.2" r="3.10" fill="#c9d8f2"/>
<circle cx="1662.2" cy="825.2" r="2.57" fill="#b7cef8"/>
<circle cx="1689.1" cy="825.2" r="3.10" fill="#e0dfdf"/>
<circle cx="1716" cy="825.2" r="2.57" fill="#b7cef8"/>
<circle cx="1742.8" cy="825.2" r="2.57" fill="#9db9f8"/>
<circle cx="1769.7" cy="825.2" r="2.57" fill="#b7cef8"/>
<circle cx="104" cy="871" r="2.57" fill="#b01d39"/>
<circle cx="130.9" cy="871" r="2.14" fill="#e0dfdf"/>
<circle cx="184.6" cy="871" r="2.14" fill="#c9d8f2"/>
<circle cx="211.5" cy="871" r="2.14" fill="#e0dfdf"/>
<circle cx="238.3" cy="871" r="2.14" fill="#f3c6b1"/>
<circle cx="265.2" cy="871" r="2.14" fill="#f2ac93"/>
<circle cx="345.8" cy="871" r="2.14" fill="#e0dfdf"/>
<circle cx="372.7" cy="871" r="2.14" fill="#b7cef8"/>
<circle cx="399.5" cy="871" r="2.14" fill="#e0dfdf"/>
<circle cx="533.9" cy="871" r="2.14" fill="#ecd6ca"/>
<circle cx="614.5" cy="871" r="2.14" fill="#f3c6b1"/>
<circle cx="668.2" cy="871" r="2.14" fill="#c9d8f2"/>
<circle cx="775.6" cy="871" r="2.14" fill="#c9d8f2"/>
<circle cx="883.1" cy="871" r="2.14" fill="#ecd6ca"/>
<circle cx="936.8" cy="871" r="2.14" fill="#ecd6ca"/>
<circle cx="1098" cy="871" r="2.14" fill="#b7cef8"/>
<circle cx="1124.9" cy="871" r="2.14" fill="#c9d8f2"/>
<circle cx="1151.8" cy="871" r="2.14" fill="#d86e5e"/>
<circle cx="1178.6" cy="871" r="2.14" fill="#b7cef8"/>
<circle cx="1205.5" cy="871" r="2.14" fill="#ecd6ca"/>
<circle cx="1259.2" cy="871" r="2.14" fill="#ecd6ca"/>
<circle cx="1286.1" cy="871" r="2.14" fill="#c9d8f2"/>
<circle cx="1313" cy="871" r="2.14" fill="#c9d8f2"/>
<circle cx="1339.8" cy="871" r="2.14" fill="#e0dfdf"/>
<circle cx="1366.7" cy="871" r="2.14" fill="#c9d8f2"/>
<circle cx="1393.6" cy="871" r="2.14" fill="#e0dfdf"/>
<circle cx="1420.4" cy="871" r="2.14" fill="#e0dfdf"/>
<circle cx="1447.3" cy="871" r="2.14" fill="#f3c6b1"/>
<circle cx="1527.9" cy="871" r="2.14" fill="#e0dfdf"/>
<circle cx="1635.4" cy="871" r="2.14" fill="#d86e5e"/>
<circle cx="1662.2" cy="871" r="2.14" fill="#e99078"/>
<circle cx="1689.1" cy="871" r="2.14" fill="#f2ac93"/>
<circle cx="1769.7" cy="871" r="2.14" fill="#f3c6b1"/>
<circle cx="104" cy="916.9" r="4.92" fill="#b21332"/>
<circle cx="130.9" cy="916.9" r="2.57" fill="#c9d8f2"/>
<circle cx="157.7" cy="916.9" r="2.57" fill="#c9d8f2"/>
<circle cx="184.6" cy="916.9" r="2.57" fill="#c9d8f2"/>
<circle cx="211.5" cy="916.9" r="3.10" fill="#f3c6b1"/>
<circle cx="265.2" cy="916.9" r="3.10" fill="#f3c6b1"/>
<circle cx="292.1" cy="916.9" r="2.57" fill="#e0dfdf"/>
<circle cx="318.9" cy="916.9" r="2.57" fill="#c9d8f2"/>
<circle cx="345.8" cy="916.9" r="3.63" fill="#c24747"/>
<circle cx="372.7" cy="916.9" r="3.10" fill="#d86e5e"/>
<circle cx="399.5" cy="916.9" r="2.57" fill="#c9d8f2"/>
<circle cx="426.4" cy="916.9" r="2.57" fill="#f3c6b1"/>
<circle cx="480.1" cy="916.9" r="2.14" fill="#c9d8f2"/>
<circle cx="507" cy="916.9" r="2.14" fill="#c9d8f2"/>
<circle cx="587.6" cy="916.9" r="2.14" fill="#c9d8f2"/>
<circle cx="614.5" cy="916.9" r="2.14" fill="#e0dfdf"/>
<circle cx="668.2" cy="916.9" r="2.14" fill="#c9d8f2"/>
<circle cx="695.1" cy="916.9" r="2.14" fill="#c9d8f2"/>
<circle cx="721.9" cy="916.9" r="2.14" fill="#c9d8f2"/>
<circle cx="748.8" cy="916.9" r="2.14" fill="#c9d8f2"/>
<circle cx="775.6" cy="916.9" r="2.14" fill="#c9d8f2"/>
<circle cx="802.5" cy="916.9" r="2.14" fill="#c9d8f2"/>
<circle cx="829.4" cy="916.9" r="2.14" fill="#c9d8f2"/>
<circle cx="856.2" cy="916.9" r="2.14" fill="#c9d8f2"/>
<circle cx="883.1" cy="916.9" r="3.10" fill="#f2ac93"/>
<circle cx="910" cy="916.9" r="2.14" fill="#c9d8f2"/>
<circle cx="936.8" cy="916.9" r="2.14" fill="#c9d8f2"/>
<circle cx="990.6" cy="916.9" r="2.14" fill="#c9d8f2"/>
<circle cx="1017.4" cy="916.9" r="2.14" fill="#e0dfdf"/>
<circle cx="1044.3" cy="916.9" r="2.14" fill="#e0dfdf"/>
<circle cx="1071.2" cy="916.9" r="3.63" fill="#b01d39"/>
<circle cx="1098" cy="916.9" r="2.57" fill="#e0dfdf"/>
<circle cx="1124.9" cy="916.9" r="2.57" fill="#e0dfdf"/>
<circle cx="1178.6" cy="916.9" r="2.14" fill="#b7cef8"/>
<circle cx="1205.5" cy="916.9" r="2.57" fill="#ecd6ca"/>
<circle cx="1313" cy="916.9" r="2.14" fill="#b7cef8"/>
<circle cx="1339.8" cy="916.9" r="2.14" fill="#c9d8f2"/>
<circle cx="1366.7" cy="916.9" r="2.14" fill="#c9d8f2"/>
<circle cx="1393.6" cy="916.9" r="2.14" fill="#c9d8f2"/>
<circle cx="1447.3" cy="916.9" r="3.10" fill="#f2ac93"/>
<circle cx="1527.9" cy="916.9" r="2.14" fill="#b7cef8"/>
<circle cx="1581.6" cy="916.9" r="2.14" fill="#b7cef8"/>
<circle cx="1635.4" cy="916.9" r="2.57" fill="#e0dfdf"/>
<circle cx="1662.2" cy="916.9" r="2.14" fill="#c9d8f2"/>
<circle cx="1716" cy="916.9" r="2.14" fill="#c9d8f2"/>
<circle cx="104" cy="962.7" r="4.92" fill="#b21332"/>
<circle cx="157.7" cy="962.7" r="2.57" fill="#c9d8f2"/>
<circle cx="184.6" cy="962.7" r="2.57" fill="#c9d8f2"/>
<circle cx="211.5" cy="962.7" r="3.10" fill="#f3c6b1"/>
<circle cx="265.2" cy="962.7" r="3.10" fill="#f2ac93"/>
<circle cx="292.1" cy="962.7" r="2.57" fill="#e0dfdf"/>
<circle cx="318.9" cy="962.7" r="2.57" fill="#c9d8f2"/>
<circle cx="345.8" cy="962.7" r="2.14" fill="#b7cef8"/>
<circle cx="372.7" cy="962.7" r="2.57" fill="#ecd6ca"/>
<circle cx="399.5" cy="962.7" r="2.57" fill="#f3c6b1"/>
<circle cx="426.4" cy="962.7" r="2.57" fill="#ecd6ca"/>
<circle cx="480.1" cy="962.7" r="2.14" fill="#c9d8f2"/>
<circle cx="507" cy="962.7" r="2.14" fill="#c9d8f2"/>
<circle cx="587.6" cy="962.7" r="2.14" fill="#c9d8f2"/>
<circle cx="614.5" cy="962.7" r="2.14" fill="#c9d8f2"/>
<circle cx="721.9" cy="962.7" r="2.14" fill="#c9d8f2"/>
<circle cx="748.8" cy="962.7" r="2.14" fill="#c9d8f2"/>
<circle cx="775.6" cy="962.7" r="2.14" fill="#c9d8f2"/>
<circle cx="802.5" cy="962.7" r="2.14" fill="#c9d8f2"/>
<circle cx="829.4" cy="962.7" r="2.14" fill="#e0dfdf"/>
<circle cx="883.1" cy="962.7" r="3.10" fill="#f2ac93"/>
<circle cx="936.8" cy="962.7" r="2.14" fill="#e0dfdf"/>
<circle cx="990.6" cy="962.7" r="2.14" fill="#c9d8f2"/>
<circle cx="1044.3" cy="962.7" r="2.14" fill="#c9d8f2"/>
<circle cx="1071.2" cy="962.7" r="3.10" fill="#c24747"/>
<circle cx="1098" cy="962.7" r="2.57" fill="#c9d8f2"/>
<circle cx="1124.9" cy="962.7" r="2.14" fill="#c9d8f2"/>
<circle cx="1151.8" cy="962.7" r="2.14" fill="#c9d8f2"/>
<circle cx="1178.6" cy="962.7" r="2.14" fill="#c9d8f2"/>
<circle cx="1205.5" cy="962.7" r="2.57" fill="#ecd6ca"/>
<circle cx="1313" cy="962.7" r="2.14" fill="#c9d8f2"/>
<circle cx="1339.8" cy="962.7" r="2.14" fill="#c9d8f2"/>
<circle cx="1366.7" cy="962.7" r="2.14" fill="#c9d8f2"/>
<circle cx="1393.6" cy="962.7" r="2.14" fill="#c9d8f2"/>
<circle cx="1447.3" cy="962.7" r="2.57" fill="#f3c6b1"/>
<circle cx="1527.9" cy="962.7" r="2.14" fill="#c9d8f2"/>
<circle cx="1635.4" cy="962.7" r="2.14" fill="#c9d8f2"/>
<circle cx="1716" cy="962.7" r="2.14" fill="#c9d8f2"/>
<circle cx="1769.7" cy="962.7" r="2.14" fill="#c9d8f2"/>
<circle cx="104" cy="1008.6" r="3.63" fill="#b01d39"/>
<circle cx="130.9" cy="1008.6" r="2.14" fill="#b7cef8"/>
<circle cx="157.7" cy="1008.6" r="2.57" fill="#e0dfdf"/>
<circle cx="184.6" cy="1008.6" r="2.14" fill="#b7cef8"/>
<circle cx="211.5" cy="1008.6" r="2.57" fill="#c9d8f2"/>
<circle cx="345.8" cy="1008.6" r="2.57" fill="#f3c6b1"/>
<circle cx="372.7" cy="1008.6" r="3.10" fill="#d86e5e"/>
<circle cx="399.5" cy="1008.6" r="2.14" fill="#b7cef8"/>
<circle cx="426.4" cy="1008.6" r="2.57" fill="#ecd6ca"/>
<circle cx="453.3" cy="1008.6" r="2.57" fill="#e0dfdf"/>
<circle cx="480.1" cy="1008.6" r="2.14" fill="#e0dfdf"/>
<circle cx="507" cy="1008.6" r="2.57" fill="#f2ac93"/>
<circle cx="560.7" cy="1008.6" r="2.14" fill="#c9d8f2"/>
<circle cx="587.6" cy="1008.6" r="2.14" fill="#c9d8f2"/>
<circle cx="614.5" cy="1008.6" r="2.14" fill="#e0dfdf"/>
<circle cx="641.3" cy="1008.6" r="2.14" fill="#c9d8f2"/>
<circle cx="668.2" cy="1008.6" r="2.14" fill="#c9d8f2"/>
<circle cx="695.1" cy="1008.6" r="3.10" fill="#b01d39"/>
<circle cx="748.8" cy="1008.6" r="2.57" fill="#d86e5e"/>
<circle cx="775.6" cy="1008.6" r="2.14" fill="#c9d8f2"/>
<circle cx="802.5" cy="1008.6" r="2.14" fill="#c9d8f2"/>
<circle cx="829.4" cy="1008.6" r="2.14" fill="#c9d8f2"/>
<circle cx="856.2" cy="1008.6" r="2.14" fill="#c9d8f2"/>
<circle cx="883.1" cy="1008.6" r="2.57" fill="#ecd6ca"/>
<circle cx="910" cy="1008.6" r="2.14" fill="#c9d8f2"/>
<circle cx="963.7" cy="1008.6" r="2.57" fill="#f2ac93"/>
<circle cx="1017.4" cy="1008.6" r="2.14" fill="#c9d8f2"/>
<circle cx="1044.3" cy="1008.6" r="2.57" fill="#c9d8f2"/>
<circle cx="1071.2" cy="1008.6" r="3.10" fill="#b01d39"/>
<circle cx="1098" cy="1008.6" r="2.57" fill="#c9d8f2"/>
<circle cx="1124.9" cy="1008.6" r="2.57" fill="#e0dfdf"/>
<circle cx="1151.8" cy="1008.6" r="2.14" fill="#c9d8f2"/>
<circle cx="1178.6" cy="1008.6" r="2.14" fill="#c9d8f2"/>
<circle cx="1205.5" cy="1008.6" r="2.57" fill="#e0dfdf"/>
<circle cx="1232.4" cy="1008.6" r="2.14" fill="#c9d8f2"/>
<circle cx="1313" cy="1008.6" r="2.14" fill="#c9d8f2"/>
<circle cx="1339.8" cy="1008.6" r="2.14" fill="#c9d8f2"/>
<circle cx="1393.6" cy="1008.6" r="2.14" fill="#c9d8f2"/>
<circle cx="1447.3" cy="1008.6" r="2.57" fill="#e0dfdf"/>
<circle cx="1527.9" cy="1008.6" r="2.14" fill="#b7cef8"/>
<circle cx="1635.4" cy="1008.6" r="2.14" fill="#c9d8f2"/>
<circle cx="1689.1" cy="1008.6" r="2.14" fill="#b7cef8"/>
<circle cx="1716" cy="1008.6" r="2.14" fill="#c9d8f2"/>
<circle cx="1769.7" cy="1008.6" r="2.14" fill="#c9d8f2"/>
<circle cx="104" cy="1054.4" r="9.62" fill="#b3092a"/>
<circle cx="184.6" cy="1054.4" r="2.14" fill="#e0dfdf"/>
<circle cx="211.5" cy="1054.4" r="2.14" fill="#c9d8f2"/>
<circle cx="372.7" cy="1054.4" r="2.14" fill="#c9d8f2"/>
<circle cx="399.5" cy="1054.4" r="2.14" fill="#c9d8f2"/>
<circle cx="426.4" cy="1054.4" r="4.17" fill="#f4c4ad"/>
<circle cx="480.1" cy="1054.4" r="2.14" fill="#c9d8f2"/>
<circle cx="533.9" cy="1054.4" r="2.14" fill="#c9d8f2"/>
<circle cx="587.6" cy="1054.4" r="2.14" fill="#c9d8f2"/>
<circle cx="614.5" cy="1054.4" r="3.10" fill="#e0dfdf"/>
<circle cx="668.2" cy="1054.4" r="2.14" fill="#c9d8f2"/>
<circle cx="775.6" cy="1054.4" r="2.14" fill="#c9d8f2"/>
<circle cx="883.1" cy="1054.4" r="2.14" fill="#e0dfdf"/>
<circle cx="963.7" cy="1054.4" r="2.14" fill="#c9d8f2"/>
<circle cx="1017.4" cy="1054.4" r="2.14" fill="#c9d8f2"/>
<circle cx="1124.9" cy="1054.4" r="2.14" fill="#c9d8f2"/>
<circle cx="1151.8" cy="1054.4" r="2.14" fill="#c9d8f2"/>
<circle cx="1178.6" cy="1054.4" r="2.14" fill="#c9d8f2"/>
<circle cx="1205.5" cy="1054.4" r="4.17" fill="#f4c4ad"/>
<circle cx="1286.1" cy="1054.4" r="2.14" fill="#e0dfdf"/>
<circle cx="1339.8" cy="1054.4" r="2.14" fill="#e0dfdf"/>
<circle cx="1420.4" cy="1054.4" r="2.14" fill="#c9d8f2"/>
<circle cx="1527.9" cy="1054.4" r="2.14" fill="#c9d8f2"/>
<circle cx="1554.8" cy="1054.4" r="2.14" fill="#c9d8f2"/>
<circle cx="1608.5" cy="1054.4" r="2.14" fill="#c9d8f2"/>
<circle cx="1689.1" cy="1054.4" r="2.14" fill="#e0dfdf"/>
<circle cx="1716" cy="1054.4" r="2.14" fill="#e0dfdf"/>
<circle cx="1769.7" cy="1054.4" r="2.14" fill="#e0dfdf"/>
<circle cx="104" cy="1100.2" r="3.85" fill="#ecd6ca"/>
<circle cx="130.9" cy="1100.2" r="2.57" fill="#c9d8f2"/>
<circle cx="157.7" cy="1100.2" r="2.57" fill="#c9d8f2"/>
<circle cx="184.6" cy="1100.2" r="2.35" fill="#b7cef8"/>
<circle cx="211.5" cy="1100.2" r="2.35" fill="#c9d8f2"/>
<circle cx="238.3" cy="1100.2" r="2.99" fill="#c9d8f2"/>
<circle cx="265.2" cy="1100.2" r="2.57" fill="#c9d8f2"/>
<circle cx="292.1" cy="1100.2" r="2.57" fill="#c9d8f2"/>
<circle cx="318.9" cy="1100.2" r="2.14" fill="#b7cef8"/>
<circle cx="345.8" cy="1100.2" r="2.57" fill="#c9d8f2"/>
<circle cx="372.7" cy="1100.2" r="2.57" fill="#c9d8f2"/>
<circle cx="399.5" cy="1100.2" r="2.57" fill="#c9d8f2"/>
<circle cx="426.4" cy="1100.2" r="8.12" fill="#b3092a"/>
<circle cx="453.3" cy="1100.2" r="5.35" fill="#da6857"/>
<circle cx="480.1" cy="1100.2" r="4.06" fill="#f4c4ad"/>
<circle cx="507" cy="1100.2" r="4.49" fill="#f3a98d"/>
<circle cx="533.9" cy="1100.2" r="5.13" fill="#da6857"/>
<circle cx="560.7" cy="1100.2" r="5.13" fill="#eb8c72"/>
<circle cx="587.6" cy="1100.2" r="4.92" fill="#f3a98d"/>
<circle cx="614.5" cy="1100.2" r="3.21" fill="#e0dfdf"/>
<circle cx="641.3" cy="1100.2" r="2.78" fill="#c9d8f2"/>
<circle cx="668.2" cy="1100.2" r="4.06" fill="#f4c4ad"/>
<circle cx="695.1" cy="1100.2" r="2.35" fill="#b7cef8"/>
<circle cx="721.9" cy="1100.2" r="2.78" fill="#c9d8f2"/>
<circle cx="748.8" cy="1100.2" r="2.14" fill="#9db9f8"/>
<circle cx="775.6" cy="1100.2" r="3.42" fill="#e0dfdf"/>
<circle cx="802.5" cy="1100.2" r="2.99" fill="#c9d8f2"/>
<circle cx="829.4" cy="1100.2" r="3.21" fill="#c9d8f2"/>
<circle cx="856.2" cy="1100.2" r="3.42" fill="#e0dfdf"/>
<circle cx="883.1" cy="1100.2" r="3.21" fill="#c9d8f2"/>
<circle cx="910" cy="1100.2" r="2.57" fill="#b7cef8"/>
<circle cx="936.8" cy="1100.2" r="4.06" fill="#f4c4ad"/>
<circle cx="963.7" cy="1100.2" r="2.14" fill="#b7cef8"/>
<circle cx="990.6" cy="1100.2" r="3.21" fill="#c9d8f2"/>
<circle cx="1017.4" cy="1100.2" r="4.06" fill="#f4c4ad"/>
<circle cx="1044.3" cy="1100.2" r="2.35" fill="#b7cef8"/>
<circle cx="1071.2" cy="1100.2" r="2.35" fill="#b7cef8"/>
<circle cx="1098" cy="1100.2" r="1.92" fill="#b7cef8"/>
<circle cx="1124.9" cy="1100.2" r="3.21" fill="#c9d8f2"/>
<circle cx="1151.8" cy="1100.2" r="2.57" fill="#b7cef8"/>
<circle cx="1178.6" cy="1100.2" r="3.21" fill="#c9d8f2"/>
<circle cx="1205.5" cy="1100.2" r="4.06" fill="#f4c4ad"/>
<circle cx="1232.4" cy="1100.2" r="3.21" fill="#c9d8f2"/>
<circle cx="1259.2" cy="1100.2" r="3.21" fill="#c9d8f2"/>
<circle cx="1286.1" cy="1100.2" r="2.57" fill="#b7cef8"/>
<circle cx="1313" cy="1100.2" r="2.57" fill="#b7cef8"/>
<circle cx="1339.8" cy="1100.2" r="2.99" fill="#c9d8f2"/>
<circle cx="1366.7" cy="1100.2" r="2.35" fill="#b7cef8"/>
<circle cx="1393.6" cy="1100.2" r="2.78" fill="#c9d8f2"/>
<circle cx="1420.4" cy="1100.2" r="3.42" fill="#e0dfdf"/>
<circle cx="1447.3" cy="1100.2" r="2.57" fill="#c9d8f2"/>
<circle cx="1474.2" cy="1100.2" r="2.35" fill="#b7cef8"/>
<circle cx="1501" cy="1100.2" r="2.99" fill="#c9d8f2"/>
<circle cx="1527.9" cy="1100.2" r="2.78" fill="#c9d8f2"/>
<circle cx="1554.8" cy="1100.2" r="2.57" fill="#c9d8f2"/>
<circle cx="1581.6" cy="1100.2" r="2.57" fill="#c9d8f2"/>
<circle cx="1608.5" cy="1100.2" r="3.21" fill="#c9d8f2"/>
<circle cx="1635.4" cy="1100.2" r="2.99" fill="#c9d8f2"/>
<circle cx="1662.2" cy="1100.2" r="2.57" fill="#c9d8f2"/>
<circle cx="1689.1" cy="1100.2" r="2.57" fill="#c9d8f2"/>
<circle cx="1716" cy="1100.2" r="2.57" fill="#c9d8f2"/>
<circle cx="1742.8" cy="1100.2" r="2.78" fill="#c9d8f2"/>
<circle cx="1769.7" cy="1100.2" r="2.99" fill="#c9d8f2"/>
<circle cx="104" cy="1146.1" r="5.77" fill="#f3a98d"/>
<circle cx="130.9" cy="1146.1" r="4.28" fill="#99b7fb"/>
<circle cx="157.7" cy="1146.1" r="3.85" fill="#9db9f8"/>
<circle cx="184.6" cy="1146.1" r="3.42" fill="#7995e9"/>
<circle cx="211.5" cy="1146.1" r="4.28" fill="#b3ccfa"/>
<circle cx="238.3" cy="1146.1" r="4.06" fill="#99b7fb"/>
<circle cx="265.2" cy="1146.1" r="4.70" fill="#c6d7f3"/>
<circle cx="292.1" cy="1146.1" r="4.49" fill="#b3ccfa"/>
<circle cx="318.9" cy="1146.1" r="6.63" fill="#c53737"/>
<circle cx="345.8" cy="1146.1" r="4.92" fill="#dfdede"/>
<circle cx="372.7" cy="1146.1" r="5.56" fill="#f4c4ad"/>
<circle cx="399.5" cy="1146.1" r="5.35" fill="#f4c4ad"/>
<circle cx="426.4" cy="1146.1" r="5.56" fill="#f3a98d"/>
<circle cx="453.3" cy="1146.1" r="5.35" fill="#f4c4ad"/>
<circle cx="480.1" cy="1146.1" r="4.49" fill="#c6d7f3"/>
<circle cx="507" cy="1146.1" r="4.70" fill="#edd4c7"/>
<circle cx="533.9" cy="1146.1" r="4.28" fill="#b3ccfa"/>
<circle cx="560.7" cy="1146.1" r="5.13" fill="#f4c4ad"/>
<circle cx="587.6" cy="1146.1" r="5.13" fill="#edd4c7"/>
<circle cx="614.5" cy="1146.1" r="7.48" fill="#b3092a"/>
<circle cx="641.3" cy="1146.1" r="3.42" fill="#7995e9"/>
<circle cx="668.2" cy="1146.1" r="5.77" fill="#da6857"/>
<circle cx="695.1" cy="1146.1" r="3.63" fill="#9db9f8"/>
<circle cx="721.9" cy="1146.1" r="4.06" fill="#b3ccfa"/>
<circle cx="748.8" cy="1146.1" r="4.92" fill="#dfdede"/>
<circle cx="775.6" cy="1146.1" r="5.35" fill="#f4c4ad"/>
<circle cx="802.5" cy="1146.1" r="6.41" fill="#b3092a"/>
<circle cx="829.4" cy="1146.1" r="5.35" fill="#f3a98d"/>
<circle cx="856.2" cy="1146.1" r="4.92" fill="#dfdede"/>
<circle cx="883.1" cy="1146.1" r="4.92" fill="#dfdede"/>
<circle cx="910" cy="1146.1" r="5.77" fill="#eb8c72"/>
<circle cx="936.8" cy="1146.1" r="4.70" fill="#b3ccfa"/>
<circle cx="963.7" cy="1146.1" r="4.70" fill="#c6d7f3"/>
<circle cx="990.6" cy="1146.1" r="5.35" fill="#f4c4ad"/>
<circle cx="1017.4" cy="1146.1" r="5.99" fill="#da6857"/>
<circle cx="1044.3" cy="1146.1" r="4.70" fill="#b3ccfa"/>
<circle cx="1071.2" cy="1146.1" r="5.77" fill="#eb8c72"/>
<circle cx="1098" cy="1146.1" r="4.92" fill="#dfdede"/>
<circle cx="1124.9" cy="1146.1" r="6.20" fill="#c53737"/>
<circle cx="1151.8" cy="1146.1" r="5.56" fill="#f3a98d"/>
<circle cx="1178.6" cy="1146.1" r="5.77" fill="#eb8c72"/>
<circle cx="1205.5" cy="1146.1" r="4.49" fill="#b3ccfa"/>
<circle cx="1232.4" cy="1146.1" r="3.85" fill="#9db9f8"/>
<circle cx="1259.2" cy="1146.1" r="4.49" fill="#b3ccfa"/>
<circle cx="1286.1" cy="1146.1" r="4.92" fill="#dfdede"/>
<circle cx="1313" cy="1146.1" r="3.63" fill="#7995e9"/>
<circle cx="1339.8" cy="1146.1" r="4.28" fill="#b3ccfa"/>
<circle cx="1366.7" cy="1146.1" r="3.85" fill="#9db9f8"/>
<circle cx="1393.6" cy="1146.1" r="4.06" fill="#99b7fb"/>
<circle cx="1420.4" cy="1146.1" r="4.49" fill="#b3ccfa"/>
<circle cx="1447.3" cy="1146.1" r="4.49" fill="#b3ccfa"/>
<circle cx="1474.2" cy="1146.1" r="4.70" fill="#b3ccfa"/>
<circle cx="1501" cy="1146.1" r="3.63" fill="#7995e9"/>
<circle cx="1527.9" cy="1146.1" r="3.85" fill="#9db9f8"/>
<circle cx="1554.8" cy="1146.1" r="3.85" fill="#9db9f8"/>
<circle cx="1581.6" cy="1146.1" r="4.49" fill="#99b7fb"/>
<circle cx="1608.5" cy="1146.1" r="2.99" fill="#7995e9"/>
<circle cx="1635.4" cy="1146.1" r="4.28" fill="#99b7fb"/>
<circle cx="1662.2" cy="1146.1" r="4.49" fill="#b3ccfa"/>
<circle cx="1689.1" cy="1146.1" r="3.21" fill="#7995e9"/>
<circle cx="1716" cy="1146.1" r="4.49" fill="#b3ccfa"/>
<circle cx="1742.8" cy="1146.1" r="4.92" fill="#edd4c7"/>
<circle cx="1769.7" cy="1146.1" r="4.70" fill="#c6d7f3"/>
<circle cx="104" cy="1191.9" r="4.70" fill="#f4c4ad"/>
<circle cx="130.9" cy="1191.9" r="3.85" fill="#c9d8f2"/>
<circle cx="157.7" cy="1191.9" r="3.21" fill="#b7cef8"/>
<circle cx="184.6" cy="1191.9" r="2.99" fill="#b7cef8"/>
<circle cx="211.5" cy="1191.9" r="3.85" fill="#c9d8f2"/>
<circle cx="238.3" cy="1191.9" r="2.57" fill="#9db9f8"/>
<circle cx="265.2" cy="1191.9" r="4.28" fill="#dfdede"/>
<circle cx="292.1" cy="1191.9" r="2.99" fill="#b7cef8"/>
<circle cx="318.9" cy="1191.9" r="2.78" fill="#b7cef8"/>
<circle cx="345.8" cy="1191.9" r="2.99" fill="#b7cef8"/>
<circle cx="372.7" cy="1191.9" r="5.35" fill="#f3a98d"/>
<circle cx="399.5" cy="1191.9" r="3.21" fill="#b7cef8"/>
<circle cx="426.4" cy="1191.9" r="5.13" fill="#f3a98d"/>
<circle cx="453.3" cy="1191.9" r="5.13" fill="#f3a98d"/>
<circle cx="480.1" cy="1191.9" r="4.28" fill="#f4c4ad"/>
<circle cx="507" cy="1191.9" r="3.85" fill="#c9d8f2"/>
<circle cx="533.9" cy="1191.9" r="2.57" fill="#9db9f8"/>
<circle cx="560.7" cy="1191.9" r="3.21" fill="#b7cef8"/>
<circle cx="587.6" cy="1191.9" r="3.63" fill="#c9d8f2"/>
<circle cx="614.5" cy="1191.9" r="7.48" fill="#b3092a"/>
<circle cx="641.3" cy="1191.9" r="3.63" fill="#c9d8f2"/>
<circle cx="668.2" cy="1191.9" r="7.27" fill="#b3092a"/>
<circle cx="695.1" cy="1191.9" r="2.78" fill="#b7cef8"/>
<circle cx="721.9" cy="1191.9" r="4.70" fill="#edd4c7"/>
<circle cx="748.8" cy="1191.9" r="2.78" fill="#b7cef8"/>
<circle cx="775.6" cy="1191.9" r="5.77" fill="#da6857"/>
<circle cx="802.5" cy="1191.9" r="4.70" fill="#f4c4ad"/>
<circle cx="829.4" cy="1191.9" r="4.06" fill="#dfdede"/>
<circle cx="856.2" cy="1191.9" r="5.35" fill="#eb8c72"/>
<circle cx="883.1" cy="1191.9" r="4.06" fill="#dfdede"/>
<circle cx="910" cy="1191.9" r="5.13" fill="#f3a98d"/>
<circle cx="936.8" cy="1191.9" r="5.77" fill="#da6857"/>
<circle cx="963.7" cy="1191.9" r="3.21" fill="#b7cef8"/>
<circle cx="990.6" cy="1191.9" r="4.28" fill="#edd4c7"/>
<circle cx="1017.4" cy="1191.9" r="5.13" fill="#f3a98d"/>
<circle cx="1044.3" cy="1191.9" r="4.49" fill="#edd4c7"/>
<circle cx="1071.2" cy="1191.9" r="4.06" fill="#dfdede"/>
<circle cx="1098" cy="1191.9" r="3.21" fill="#b7cef8"/>
<circle cx="1124.9" cy="1191.9" r="4.92" fill="#f3a98d"/>
<circle cx="1151.8" cy="1191.9" r="2.78" fill="#9db9f8"/>
<circle cx="1178.6" cy="1191.9" r="4.28" fill="#edd4c7"/>
<circle cx="1205.5" cy="1191.9" r="4.06" fill="#dfdede"/>
<circle cx="1232.4" cy="1191.9" r="2.57" fill="#9db9f8"/>
<circle cx="1259.2" cy="1191.9" r="4.49" fill="#edd4c7"/>
<circle cx="1286.1" cy="1191.9" r="2.14" fill="#9db9f8"/>
<circle cx="1313" cy="1191.9" r="2.57" fill="#9db9f8"/>
<circle cx="1339.8" cy="1191.9" r="3.63" fill="#c9d8f2"/>
<circle cx="1366.7" cy="1191.9" r="2.57" fill="#9db9f8"/>
<circle cx="1393.6" cy="1191.9" r="2.57" fill="#9db9f8"/>
<circle cx="1420.4" cy="1191.9" r="2.35" fill="#9db9f8"/>
<circle cx="1447.3" cy="1191.9" r="2.35" fill="#9db9f8"/>
<circle cx="1474.2" cy="1191.9" r="3.21" fill="#b7cef8"/>
<circle cx="1501" cy="1191.9" r="3.63" fill="#b7cef8"/>
<circle cx="1527.9" cy="1191.9" r="2.57" fill="#9db9f8"/>
<circle cx="1554.8" cy="1191.9" r="1.92" fill="#9db9f8"/>
<circle cx="1581.6" cy="1191.9" r="2.35" fill="#9db9f8"/>
<circle cx="1608.5" cy="1191.9" r="2.35" fill="#9db9f8"/>
<circle cx="1635.4" cy="1191.9" r="2.99" fill="#b7cef8"/>
<circle cx="1662.2" cy="1191.9" r="3.21" fill="#b7cef8"/>
<circle cx="1689.1" cy="1191.9" r="1.92" fill="#9db9f8"/>
<circle cx="1716" cy="1191.9" r="3.63" fill="#c9d8f2"/>
<circle cx="1742.8" cy="1191.9" r="1.92" fill="#9db9f8"/>
<circle cx="1769.7" cy="1191.9" r="3.42" fill="#b7cef8"/>
<circle cx="104" cy="1237.8" r="2.78" fill="#e0dfdf"/>
<circle cx="130.9" cy="1237.8" r="2.14" fill="#b7cef8"/>
<circle cx="184.6" cy="1237.8" r="1.92" fill="#b7cef8"/>
<circle cx="211.5" cy="1237.8" r="2.14" fill="#b7cef8"/>
<circle cx="265.2" cy="1237.8" r="2.14" fill="#b7cef8"/>
<circle cx="292.1" cy="1237.8" r="2.14" fill="#b7cef8"/>
<circle cx="318.9" cy="1237.8" r="1.92" fill="#b7cef8"/>
<circle cx="345.8" cy="1237.8" r="1.92" fill="#b7cef8"/>
<circle cx="372.7" cy="1237.8" r="2.14" fill="#b7cef8"/>
<circle cx="399.5" cy="1237.8" r="2.14" fill="#b7cef8"/>
<circle cx="426.4" cy="1237.8" r="2.78" fill="#e0dfdf"/>
<circle cx="453.3" cy="1237.8" r="4.49" fill="#b21332"/>
<circle cx="480.1" cy="1237.8" r="4.70" fill="#b21332"/>
<circle cx="507" cy="1237.8" r="2.14" fill="#b7cef8"/>
<circle cx="533.9" cy="1237.8" r="2.78" fill="#e0dfdf"/>
<circle cx="560.7" cy="1237.8" r="2.99" fill="#ecd6ca"/>
<circle cx="587.6" cy="1237.8" r="2.78" fill="#e0dfdf"/>
<circle cx="614.5" cy="1237.8" r="4.49" fill="#b21332"/>
<circle cx="641.3" cy="1237.8" r="2.14" fill="#b7cef8"/>
<circle cx="668.2" cy="1237.8" r="2.78" fill="#c9d8f2"/>
<circle cx="695.1" cy="1237.8" r="2.57" fill="#b7cef8"/>
<circle cx="721.9" cy="1237.8" r="2.14" fill="#b7cef8"/>
<circle cx="748.8" cy="1237.8" r="2.35" fill="#b7cef8"/>
<circle cx="775.6" cy="1237.8" r="3.42" fill="#e99078"/>
<circle cx="802.5" cy="1237.8" r="2.14" fill="#b7cef8"/>
<circle cx="829.4" cy="1237.8" r="2.35" fill="#c9d8f2"/>
<circle cx="856.2" cy="1237.8" r="2.99" fill="#ecd6ca"/>
<circle cx="883.1" cy="1237.8" r="2.78" fill="#e0dfdf"/>
<circle cx="910" cy="1237.8" r="4.06" fill="#b21332"/>
<circle cx="936.8" cy="1237.8" r="2.99" fill="#f3c6b1"/>
<circle cx="963.7" cy="1237.8" r="2.14" fill="#b7cef8"/>
<circle cx="990.6" cy="1237.8" r="2.99" fill="#ecd6ca"/>
<circle cx="1017.4" cy="1237.8" r="2.35" fill="#b7cef8"/>
<circle cx="1044.3" cy="1237.8" r="2.99" fill="#ecd6ca"/>
<circle cx="1071.2" cy="1237.8" r="3.21" fill="#f2ac93"/>
<circle cx="1098" cy="1237.8" r="1.92" fill="#b7cef8"/>
<circle cx="1124.9" cy="1237.8" r="2.78" fill="#ecd6ca"/>
<circle cx="1151.8" cy="1237.8" r="2.35" fill="#b7cef8"/>
<circle cx="1178.6" cy="1237.8" r="2.57" fill="#c9d8f2"/>
<circle cx="1205.5" cy="1237.8" r="2.57" fill="#c9d8f2"/>
<circle cx="1232.4" cy="1237.8" r="2.35" fill="#b7cef8"/>
<circle cx="1259.2" cy="1237.8" r="2.35" fill="#b7cef8"/>
<circle cx="1339.8" cy="1237.8" r="2.99" fill="#f3c6b1"/>
<circle cx="1393.6" cy="1237.8" r="2.14" fill="#b7cef8"/>
<circle cx="1420.4" cy="1237.8" r="2.14" fill="#b7cef8"/>
<circle cx="1447.3" cy="1237.8" r="2.14" fill="#b7cef8"/>
<circle cx="1474.2" cy="1237.8" r="2.57" fill="#c9d8f2"/>
<circle cx="1527.9" cy="1237.8" r="2.14" fill="#b7cef8"/>
<circle cx="1608.5" cy="1237.8" r="2.14" fill="#b7cef8"/>
<circle cx="1662.2" cy="1237.8" r="2.35" fill="#b7cef8"/>
<circle cx="1716" cy="1237.8" r="2.14" fill="#b7cef8"/>
<circle cx="1769.7" cy="1237.8" r="2.14" fill="#b7cef8"/>
<circle cx="104" cy="1283.6" r="2.35" fill="#f2ac93"/>
<circle cx="130.9" cy="1283.6" r="2.14" fill="#e0dfdf"/>
<circle cx="345.8" cy="1283.6" r="1.92" fill="#c9d8f2"/>
<circle cx="372.7" cy="1283.6" r="1.92" fill="#c9d8f2"/>
<circle cx="399.5" cy="1283.6" r="1.92" fill="#c9d8f2"/>
<circle cx="426.4" cy="1283.6" r="2.35" fill="#e99078"/>
<circle cx="453.3" cy="1283.6" r="2.35" fill="#f2ac93"/>
<circle cx="480.1" cy="1283.6" r="1.92" fill="#c9d8f2"/>
<circle cx="533.9" cy="1283.6" r="1.92" fill="#c9d8f2"/>
<circle cx="587.6" cy="1283.6" r="2.35" fill="#f3c6b1"/>
<circle cx="614.5" cy="1283.6" r="3.42" fill="#b01d39"/>
<circle cx="668.2" cy="1283.6" r="2.99" fill="#b01d39"/>
<circle cx="695.1" cy="1283.6" r="1.92" fill="#c9d8f2"/>
<circle cx="775.6" cy="1283.6" r="1.92" fill="#c9d8f2"/>
<circle cx="856.2" cy="1283.6" r="2.14" fill="#e0dfdf"/>
<circle cx="910" cy="1283.6" r="1.92" fill="#e0dfdf"/>
<circle cx="936.8" cy="1283.6" r="2.14" fill="#e0dfdf"/>
<circle cx="990.6" cy="1283.6" r="2.14" fill="#c9d8f2"/>
<circle cx="1017.4" cy="1283.6" r="2.35" fill="#e0dfdf"/>
<circle cx="1098" cy="1283.6" r="1.92" fill="#b7cef8"/>
<circle cx="1124.9" cy="1283.6" r="2.14" fill="#e0dfdf"/>
<circle cx="1178.6" cy="1283.6" r="1.92" fill="#c9d8f2"/>
<circle cx="1205.5" cy="1283.6" r="2.35" fill="#f3c6b1"/>
<circle cx="1259.2" cy="1283.6" r="2.14" fill="#e0dfdf"/>
<circle cx="1420.4" cy="1283.6" r="1.92" fill="#c9d8f2"/>
<circle cx="1527.9" cy="1283.6" r="1.92" fill="#c9d8f2"/>
<circle cx="1635.4" cy="1283.6" r="1.92" fill="#c9d8f2"/>
<circle cx="104" cy="1329.4" r="2.78" fill="#b7cef8"/>
<circle cx="130.9" cy="1329.4" r="2.78" fill="#c9d8f2"/>
<circle cx="157.7" cy="1329.4" r="2.14" fill="#b7cef8"/>
<circle cx="184.6" cy="1329.4" r="2.35" fill="#b7cef8"/>
<circle cx="211.5" cy="1329.4" r="2.35" fill="#b7cef8"/>
<circle cx="238.3" cy="1329.4" r="2.35" fill="#b7cef8"/>
<circle cx="265.2" cy="1329.4" r="2.35" fill="#b7cef8"/>
<circle cx="292.1" cy="1329.4" r="2.57" fill="#b7cef8"/>
<circle cx="318.9" cy="1329.4" r="2.14" fill="#b7cef8"/>
<circle cx="345.8" cy="1329.4" r="2.57" fill="#b7cef8"/>
<circle cx="372.7" cy="1329.4" r="2.99" fill="#e0dfdf"/>
<circle cx="399.5" cy="1329.4" r="2.57" fill="#b7cef8"/>
<circle cx="426.4" cy="1329.4" r="2.78" fill="#c9d8f2"/>
<circle cx="453.3" cy="1329.4" r="2.99" fill="#c9d8f2"/>
<circle cx="480.1" cy="1329.4" r="2.99" fill="#e0dfdf"/>
<circle cx="507" cy="1329.4" r="3.21" fill="#ecd6ca"/>
<circle cx="533.9" cy="1329.4" r="2.57" fill="#b7cef8"/>
<circle cx="560.7" cy="1329.4" r="3.85" fill="#f2ac93"/>
<circle cx="587.6" cy="1329.4" r="3.42" fill="#f3c6b1"/>
<circle cx="614.5" cy="1329.4" r="4.92" fill="#b21332"/>
<circle cx="641.3" cy="1329.4" r="2.35" fill="#b7cef8"/>
<circle cx="668.2" cy="1329.4" r="2.99" fill="#c9d8f2"/>
<circle cx="695.1" cy="1329.4" r="2.78" fill="#c9d8f2"/>
<circle cx="721.9" cy="1329.4" r="2.35" fill="#b7cef8"/>
<circle cx="748.8" cy="1329.4" r="4.28" fill="#c33f40"/>
<circle cx="775.6" cy="1329.4" r="3.42" fill="#f3c6b1"/>
<circle cx="802.5" cy="1329.4" r="4.70" fill="#b21332"/>
<circle cx="829.4" cy="1329.4" r="4.28" fill="#da6857"/>
<circle cx="856.2" cy="1329.4" r="3.42" fill="#f3c6b1"/>
<circle cx="883.1" cy="1329.4" r="3.63" fill="#ecd6ca"/>
<circle cx="910" cy="1329.4" r="3.42" fill="#f3c6b1"/>
<circle cx="936.8" cy="1329.4" r="2.99" fill="#e0dfdf"/>
<circle cx="963.7" cy="1329.4" r="2.78" fill="#c9d8f2"/>
<circle cx="990.6" cy="1329.4" r="3.21" fill="#f3c6b1"/>
<circle cx="1017.4" cy="1329.4" r="2.78" fill="#c9d8f2"/>
<circle cx="1044.3" cy="1329.4" r="3.85" fill="#e99078"/>
<circle cx="1071.2" cy="1329.4" r="3.21" fill="#ecd6ca"/>
<circle cx="1098" cy="1329.4" r="2.78" fill="#c9d8f2"/>
<circle cx="1124.9" cy="1329.4" r="4.92" fill="#b21332"/>
<circle cx="1151.8" cy="1329.4" r="3.85" fill="#d86e5e"/>
<circle cx="1178.6" cy="1329.4" r="3.21" fill="#ecd6ca"/>
<circle cx="1205.5" cy="1329.4" r="2.35" fill="#b7cef8"/>
<circle cx="1232.4" cy="1329.4" r="2.35" fill="#b7cef8"/>
<circle cx="1259.2" cy="1329.4" r="2.14" fill="#b7cef8"/>
<circle cx="1286.1" cy="1329.4" r="1.92" fill="#9db9f8"/>
<circle cx="1313" cy="1329.4" r="1.92" fill="#9db9f8"/>
<circle cx="1339.8" cy="1329.4" r="2.57" fill="#b7cef8"/>
<circle cx="1366.7" cy="1329.4" r="2.35" fill="#b7cef8"/>
<circle cx="1393.6" cy="1329.4" r="2.35" fill="#b7cef8"/>
<circle cx="1420.4" cy="1329.4" r="2.14" fill="#b7cef8"/>
<circle cx="1447.3" cy="1329.4" r="2.35" fill="#b7cef8"/>
<circle cx="1474.2" cy="1329.4" r="2.57" fill="#b7cef8"/>
<circle cx="1527.9" cy="1329.4" r="2.14" fill="#b7cef8"/>
<circle cx="1635.4" cy="1329.4" r="2.35" fill="#b7cef8"/>
<circle cx="1662.2" cy="1329.4" r="2.57" fill="#b7cef8"/>
<circle cx="1689.1" cy="1329.4" r="1.92" fill="#b7cef8"/>
<circle cx="1716" cy="1329.4" r="3.63" fill="#f3c6b1"/>
<circle cx="1742.8" cy="1329.4" r="1.92" fill="#b7cef8"/>
<circle cx="1769.7" cy="1329.4" r="2.78" fill="#c9d8f2"/>
<circle cx="104" cy="1375.3" r="4.92" fill="#edd4c7"/>
<circle cx="130.9" cy="1375.3" r="3.85" fill="#7995e9"/>
<circle cx="157.7" cy="1375.3" r="4.06" fill="#99b7fb"/>
<circle cx="184.6" cy="1375.3" r="2.99" fill="#5060c1"/>
<circle cx="211.5" cy="1375.3" r="4.28" fill="#99b7fb"/>
<circle cx="238.3" cy="1375.3" r="4.92" fill="#c6d7f3"/>
<circle cx="265.2" cy="1375.3" r="5.77" fill="#da6857"/>
<circle cx="292.1" cy="1375.3" r="4.70" fill="#b3ccfa"/>
<circle cx="318.9" cy="1375.3" r="3.85" fill="#7995e9"/>
<circle cx="345.8" cy="1375.3" r="4.70" fill="#c6d7f3"/>
<circle cx="372.7" cy="1375.3" r="2.99" fill="#5060c1"/>
<circle cx="399.5" cy="1375.3" r="4.92" fill="#edd4c7"/>
<circle cx="426.4" cy="1375.3" r="4.92" fill="#f4c4ad"/>
<circle cx="453.3" cy="1375.3" r="4.70" fill="#b3ccfa"/>
<circle cx="480.1" cy="1375.3" r="4.70" fill="#dfdede"/>
<circle cx="507" cy="1375.3" r="4.70" fill="#b3ccfa"/>
<circle cx="533.9" cy="1375.3" r="4.28" fill="#99b7fb"/>
<circle cx="560.7" cy="1375.3" r="4.49" fill="#b3ccfa"/>
<circle cx="587.6" cy="1375.3" r="4.28" fill="#99b7fb"/>
<circle cx="614.5" cy="1375.3" r="6.20" fill="#b3092a"/>
<circle cx="641.3" cy="1375.3" r="4.28" fill="#7391eb"/>
<circle cx="668.2" cy="1375.3" r="5.56" fill="#eb8c72"/>
<circle cx="695.1" cy="1375.3" r="4.92" fill="#dfdede"/>
<circle cx="721.9" cy="1375.3" r="4.70" fill="#b3ccfa"/>
<circle cx="748.8" cy="1375.3" r="3.85" fill="#9db9f8"/>
<circle cx="775.6" cy="1375.3" r="5.35" fill="#f3a98d"/>
<circle cx="802.5" cy="1375.3" r="6.20" fill="#b3092a"/>
<circle cx="829.4" cy="1375.3" r="5.13" fill="#f4c4ad"/>
<circle cx="856.2" cy="1375.3" r="4.92" fill="#edd4c7"/>
<circle cx="883.1" cy="1375.3" r="5.77" fill="#da6857"/>
<circle cx="910" cy="1375.3" r="6.20" fill="#b3092a"/>
<circle cx="936.8" cy="1375.3" r="5.56" fill="#eb8c72"/>
<circle cx="963.7" cy="1375.3" r="5.56" fill="#edd4c7"/>
<circle cx="990.6" cy="1375.3" r="5.13" fill="#f4c4ad"/>
<circle cx="1017.4" cy="1375.3" r="4.92" fill="#c6d7f3"/>
<circle cx="1044.3" cy="1375.3" r="4.70" fill="#b3ccfa"/>
<circle cx="1071.2" cy="1375.3" r="4.92" fill="#f4c4ad"/>
<circle cx="1098" cy="1375.3" r="4.92" fill="#dfdede"/>
<circle cx="1124.9" cy="1375.3" r="5.99" fill="#b21332"/>
<circle cx="1151.8" cy="1375.3" r="5.35" fill="#f3a98d"/>
<circle cx="1178.6" cy="1375.3" r="5.13" fill="#f4c4ad"/>
<circle cx="1205.5" cy="1375.3" r="4.70" fill="#c6d7f3"/>
<circle cx="1232.4" cy="1375.3" r="4.28" fill="#99b7fb"/>
<circle cx="1259.2" cy="1375.3" r="4.70" fill="#b3ccfa"/>
<circle cx="1286.1" cy="1375.3" r="3.85" fill="#7995e9"/>
<circle cx="1313" cy="1375.3" r="4.06" fill="#99b7fb"/>
<circle cx="1339.8" cy="1375.3" r="4.70" fill="#c6d7f3"/>
<circle cx="1366.7" cy="1375.3" r="4.70" fill="#c6d7f3"/>
<circle cx="1393.6" cy="1375.3" r="4.28" fill="#99b7fb"/>
<circle cx="1420.4" cy="1375.3" r="4.70" fill="#c6d7f3"/>
<circle cx="1447.3" cy="1375.3" r="5.77" fill="#c33f40"/>
<circle cx="1474.2" cy="1375.3" r="4.92" fill="#dfdede"/>
<circle cx="1501" cy="1375.3" r="5.13" fill="#f4c4ad"/>
<circle cx="1527.9" cy="1375.3" r="4.49" fill="#b3ccfa"/>
<circle cx="1554.8" cy="1375.3" r="4.92" fill="#f4c4ad"/>
<circle cx="1581.6" cy="1375.3" r="5.13" fill="#f4c4ad"/>
<circle cx="1608.5" cy="1375.3" r="5.13" fill="#edd4c7"/>
<circle cx="1635.4" cy="1375.3" r="4.70" fill="#c6d7f3"/>
<circle cx="1662.2" cy="1375.3" r="4.28" fill="#99b7fb"/>
<circle cx="1689.1" cy="1375.3" r="5.13" fill="#f4c4ad"/>
<circle cx="1716" cy="1375.3" r="4.70" fill="#c6d7f3"/>
<circle cx="1742.8" cy="1375.3" r="4.49" fill="#b3ccfa"/>
<defs><linearGradient id="cw" x1="0" y1="0" x2="0" y2="1"><stop offset="0.0000" stop-color="#b40426"/><stop offset="0.0625" stop-color="#ca3b37"/><stop offset="0.1250" stop-color="#dd5f4b"/><stop offset="0.1875" stop-color="#eb7d62"/><stop offset="0.2500" stop-color="#f4987a"/><stop offset="0.3125" stop-color="#f7b093"/><stop offset="0.3750" stop-color="#f5c4ac"/><stop offset="0.4375" stop-color="#ecd3c5"/><stop offset="0.5000" stop-color="#dddcdc"/><stop offset="0.5625" stop-color="#ccd9ed"/><stop offset="0.6250" stop-color="#b9d0f9"/><stop offset="0.6875" stop-color="#a3c2fe"/><stop offset="0.7500" stop-color="#8db0fe"/><stop offset="0.8125" stop-color="#779af7"/><stop offset="0.8750" stop-color="#6282ea"/><stop offset="0.9375" stop-color="#4e68d8"/><stop offset="1.0000" stop-color="#3b4cc0"/></linearGradient></defs>
<rect x="1824.6" y="884.9" width="21.6" height="217" fill="url(#cw)" stroke="#111" stroke-width="1.1"/>
<g font-size="20.5" text-anchor="middle">
<rect x="1846" y="884.3" width="6.2" height="1.2" fill="#1a1a1a"/>
<text x="1877.3" y="888.4">2.0</text>
<rect x="1846" y="938.5" width="6.2" height="1.2" fill="#1a1a1a"/>
<text x="1877.3" y="942.6">1.0</text>
<rect x="1846" y="992.8" width="6.2" height="1.2" fill="#1a1a1a"/>
<text x="1877.3" y="996.9">0.0</text>
<rect x="1846" y="1047.1" width="6.2" height="1.2" fill="#1a1a1a"/>
<text x="1877.3" y="1051.2">−1.0</text>
<rect x="1846" y="1101.3" width="6.2" height="1.2" fill="#1a1a1a"/>
<text x="1877.3" y="1105.4">−2.0</text>
</g>
<text transform="translate(1911 855.8) rotate(90)" font-size="20.5">Average Expression (Z-score)</text>
<text transform="translate(1909 1172.2) rotate(90)" font-size="20.5">Percent Expressed</text>
<circle cx="1845.7" cy="1221.8" r="4.9" fill="#868686"/>
<text x="1861.6" y="1226.9" font-size="20.4">10</text>
<circle cx="1845.7" cy="1255.4" r="6.8" fill="#868686"/>
<text x="1861.6" y="1260.5" font-size="20.4">30</text>
<circle cx="1845.7" cy="1289.4" r="8.2" fill="#868686"/>
<text x="1861.6" y="1294.5" font-size="20.4">50</text>
</g>
</svg>
</body></html>
